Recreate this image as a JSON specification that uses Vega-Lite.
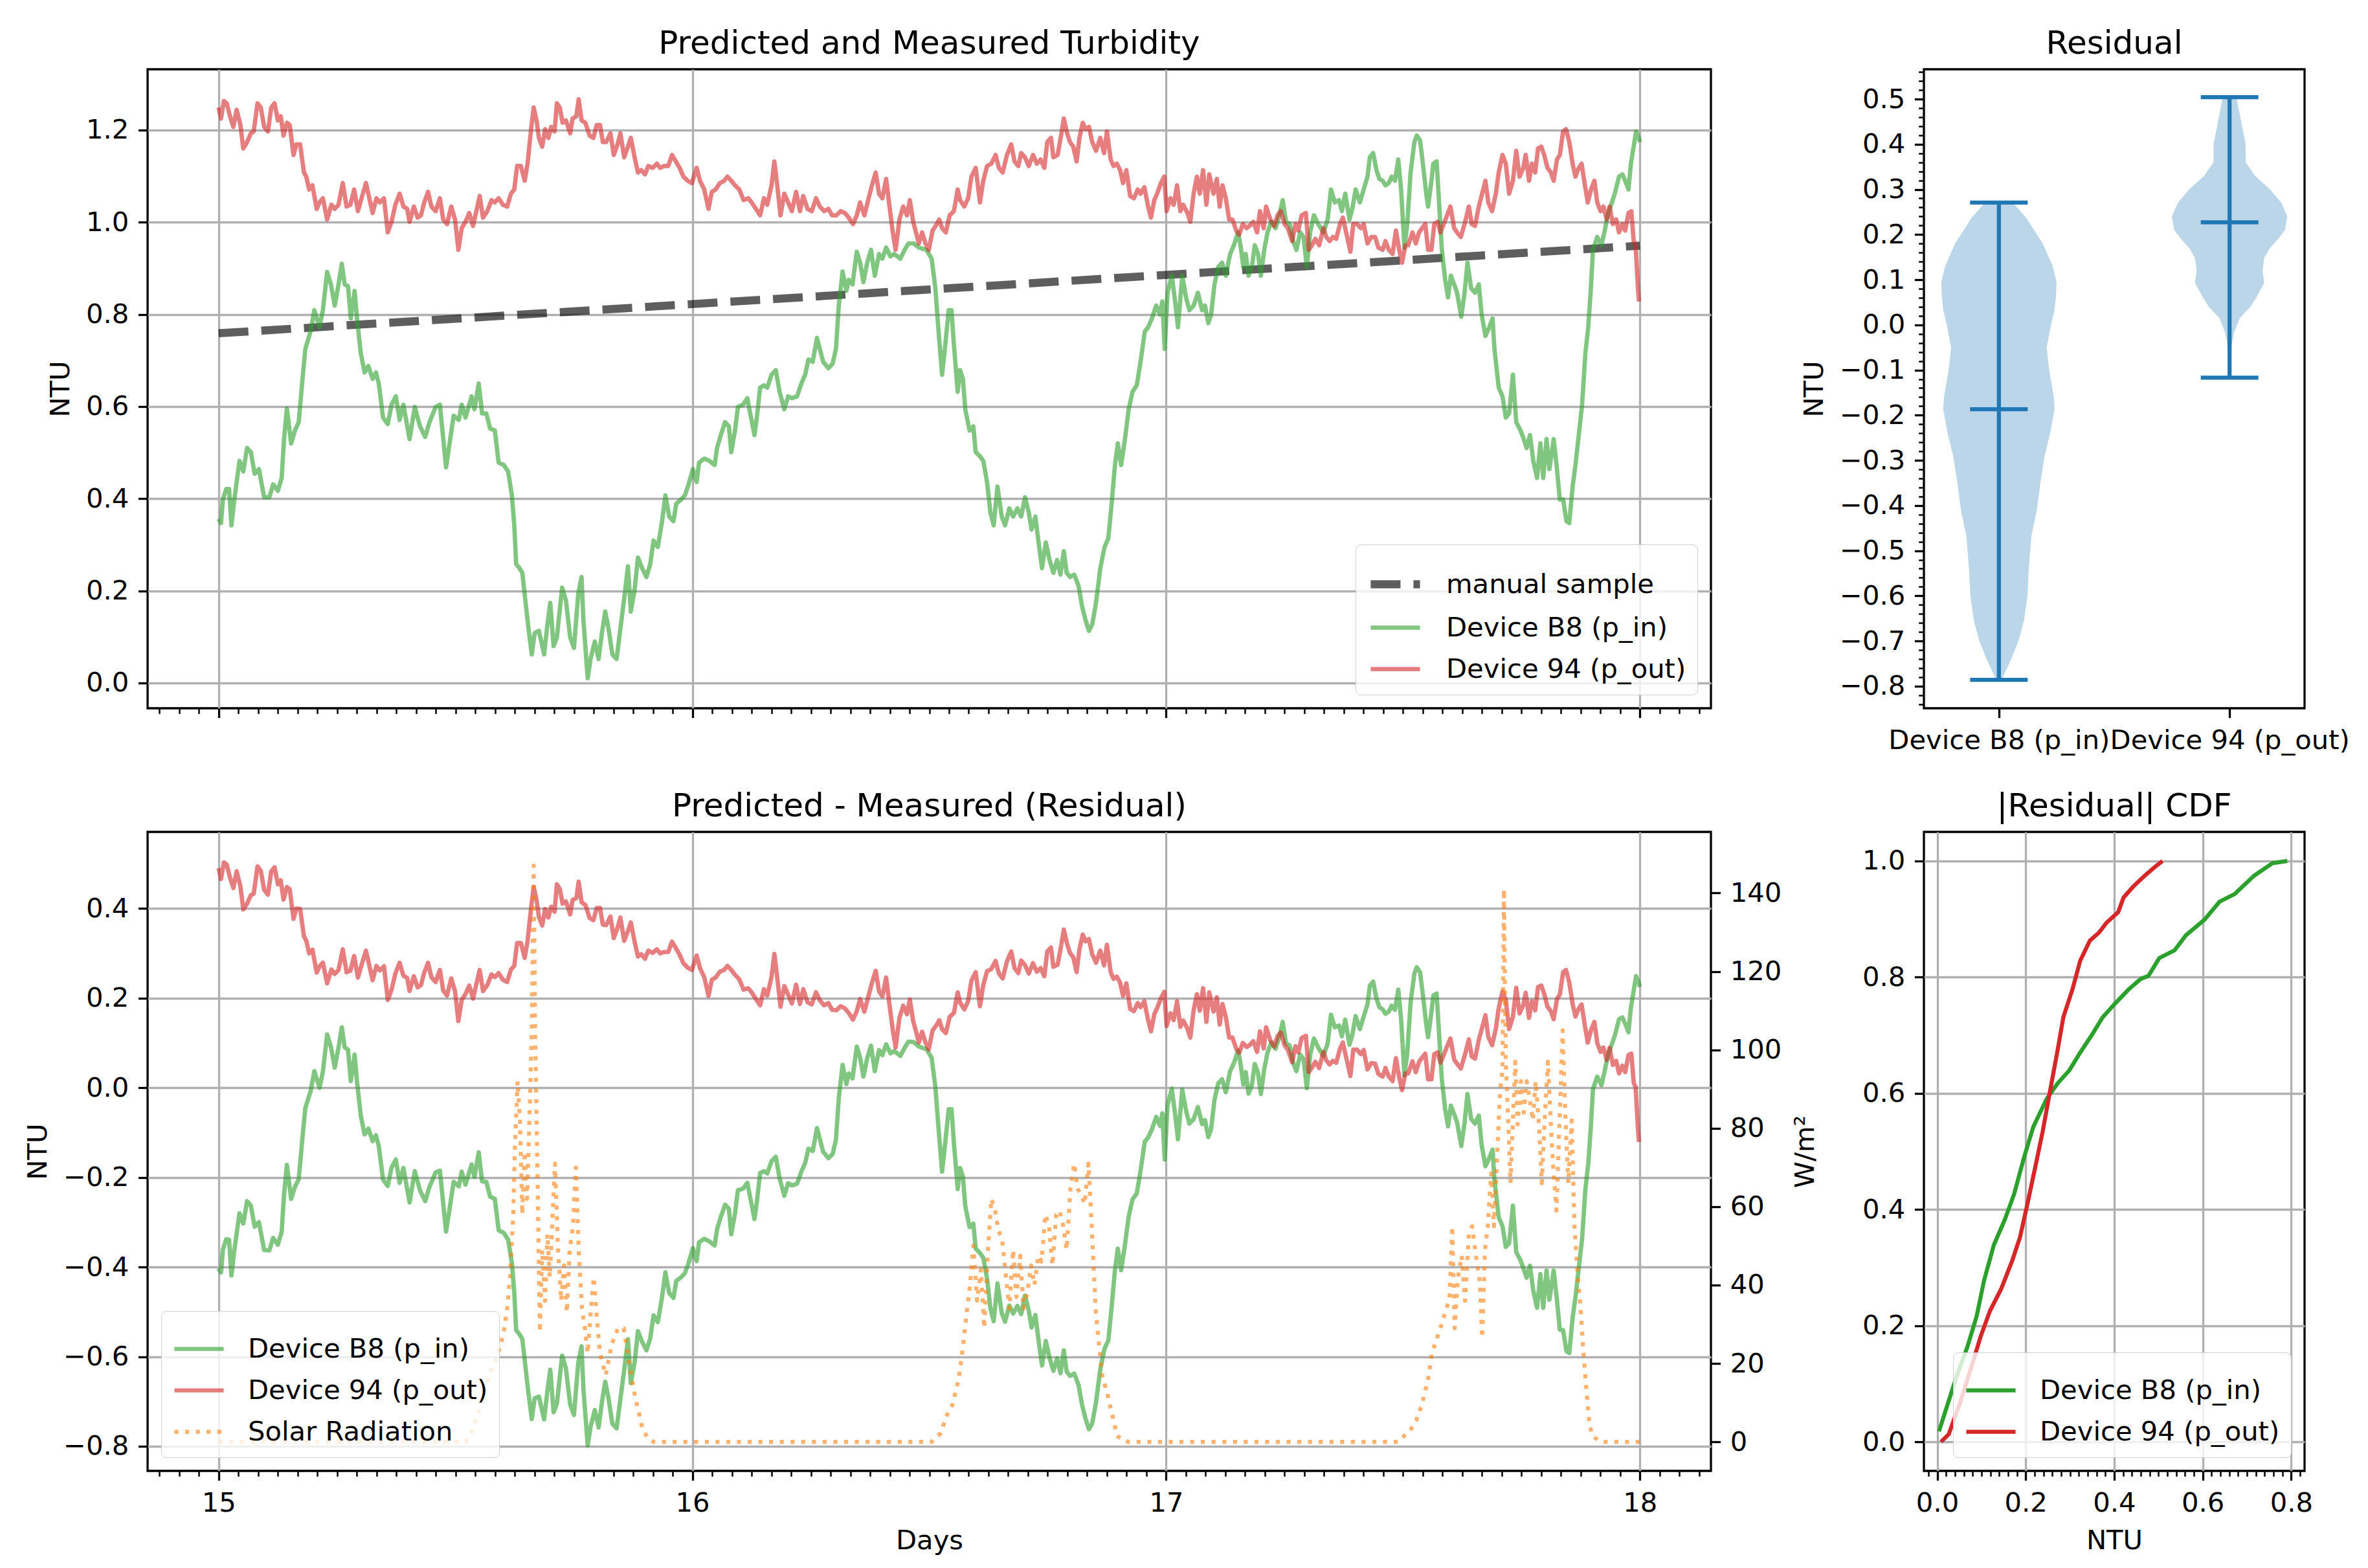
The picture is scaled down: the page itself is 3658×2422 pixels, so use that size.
{
  "$schema": "https://vega.github.io/schema/vega-lite/v6.json",
  "background": "white",
  "padding": {"left": 37, "top": 41, "right": 0, "bottom": 0},
  "columns": 2,
  "align": "each",
  "bounds": "flush",
  "spacing": {"row": 191, "column": 329},
  "resolve": {
    "scale": {"color": "independent", "strokeDash": "independent", "strokeWidth": "independent", "opacity": "independent", "x": "independent", "y": "independent"},
    "legend": {"color": "independent", "strokeDash": "independent", "strokeWidth": "independent", "opacity": "independent"}
  },
  "datasets": {
    "turb": [
      {"s":"manual sample","t":15,"v":0.759},{"s":"manual sample","t":18,"v":0.949},
      {"s":"Device B8 (p_in)","t":15,"v":0.356},{"s":"Device B8 (p_in)","t":15.005,"v":0.347},{"s":"Device B8 (p_in)","t":15.009,"v":0.398},{"s":"Device B8 (p_in)","t":15.016,"v":0.421},{"s":"Device B8 (p_in)","t":15.022,"v":0.421},{"s":"Device B8 (p_in)","t":15.027,"v":0.342},{"s":"Device B8 (p_in)","t":15.033,"v":0.398},{"s":"Device B8 (p_in)","t":15.044,"v":0.482},{"s":"Device B8 (p_in)","t":15.052,"v":0.459},{"s":"Device B8 (p_in)","t":15.06,"v":0.51},{"s":"Device B8 (p_in)","t":15.068,"v":0.501},{"s":"Device B8 (p_in)","t":15.076,"v":0.454},{"s":"Device B8 (p_in)","t":15.085,"v":0.464},{"s":"Device B8 (p_in)","t":15.096,"v":0.403},{"s":"Device B8 (p_in)","t":15.107,"v":0.403},{"s":"Device B8 (p_in)","t":15.115,"v":0.431},{"s":"Device B8 (p_in)","t":15.125,"v":0.417},{"s":"Device B8 (p_in)","t":15.133,"v":0.445},{"s":"Device B8 (p_in)","t":15.138,"v":0.529},{"s":"Device B8 (p_in)","t":15.144,"v":0.596},{"s":"Device B8 (p_in)","t":15.153,"v":0.52},{"s":"Device B8 (p_in)","t":15.161,"v":0.548},{"s":"Device B8 (p_in)","t":15.169,"v":0.566},{"s":"Device B8 (p_in)","t":15.177,"v":0.66},{"s":"Device B8 (p_in)","t":15.183,"v":0.725},{"s":"Device B8 (p_in)","t":15.194,"v":0.763},{"s":"Device B8 (p_in)","t":15.202,"v":0.809},{"s":"Device B8 (p_in)","t":15.213,"v":0.772},{"s":"Device B8 (p_in)","t":15.22,"v":0.809},{"s":"Device B8 (p_in)","t":15.229,"v":0.892},{"s":"Device B8 (p_in)","t":15.237,"v":0.865},{"s":"Device B8 (p_in)","t":15.245,"v":0.819},{"s":"Device B8 (p_in)","t":15.253,"v":0.865},{"s":"Device B8 (p_in)","t":15.26,"v":0.91},{"s":"Device B8 (p_in)","t":15.266,"v":0.865},{"s":"Device B8 (p_in)","t":15.273,"v":0.861},{"s":"Device B8 (p_in)","t":15.279,"v":0.791},{"s":"Device B8 (p_in)","t":15.287,"v":0.851},{"s":"Device B8 (p_in)","t":15.292,"v":0.791},{"s":"Device B8 (p_in)","t":15.3,"v":0.716},{"s":"Device B8 (p_in)","t":15.308,"v":0.674},{"s":"Device B8 (p_in)","t":15.316,"v":0.688},{"s":"Device B8 (p_in)","t":15.325,"v":0.66},{"s":"Device B8 (p_in)","t":15.332,"v":0.674},{"s":"Device B8 (p_in)","t":15.338,"v":0.65},{"s":"Device B8 (p_in)","t":15.347,"v":0.576},{"s":"Device B8 (p_in)","t":15.357,"v":0.562},{"s":"Device B8 (p_in)","t":15.365,"v":0.604},{"s":"Device B8 (p_in)","t":15.374,"v":0.622},{"s":"Device B8 (p_in)","t":15.382,"v":0.571},{"s":"Device B8 (p_in)","t":15.39,"v":0.604},{"s":"Device B8 (p_in)","t":15.403,"v":0.529},{"s":"Device B8 (p_in)","t":15.414,"v":0.599},{"s":"Device B8 (p_in)","t":15.425,"v":0.557},{"s":"Device B8 (p_in)","t":15.436,"v":0.534},{"s":"Device B8 (p_in)","t":15.445,"v":0.566},{"s":"Device B8 (p_in)","t":15.458,"v":0.599},{"s":"Device B8 (p_in)","t":15.467,"v":0.604},{"s":"Device B8 (p_in)","t":15.48,"v":0.468},{"s":"Device B8 (p_in)","t":15.486,"v":0.51},{"s":"Device B8 (p_in)","t":15.496,"v":0.58},{"s":"Device B8 (p_in)","t":15.507,"v":0.571},{"s":"Device B8 (p_in)","t":15.513,"v":0.604},{"s":"Device B8 (p_in)","t":15.521,"v":0.576},{"s":"Device B8 (p_in)","t":15.534,"v":0.622},{"s":"Device B8 (p_in)","t":15.54,"v":0.594},{"s":"Device B8 (p_in)","t":15.549,"v":0.65},{"s":"Device B8 (p_in)","t":15.556,"v":0.585},{"s":"Device B8 (p_in)","t":15.565,"v":0.585},{"s":"Device B8 (p_in)","t":15.573,"v":0.552},{"s":"Device B8 (p_in)","t":15.583,"v":0.548},{"s":"Device B8 (p_in)","t":15.591,"v":0.478},{"s":"Device B8 (p_in)","t":15.602,"v":0.473},{"s":"Device B8 (p_in)","t":15.611,"v":0.459},{"s":"Device B8 (p_in)","t":15.619,"v":0.407},{"s":"Device B8 (p_in)","t":15.624,"v":0.342},{"s":"Device B8 (p_in)","t":15.628,"v":0.258},{"s":"Device B8 (p_in)","t":15.635,"v":0.249},{"s":"Device B8 (p_in)","t":15.641,"v":0.239},{"s":"Device B8 (p_in)","t":15.649,"v":0.164},{"s":"Device B8 (p_in)","t":15.654,"v":0.118},{"s":"Device B8 (p_in)","t":15.661,"v":0.062},{"s":"Device B8 (p_in)","t":15.667,"v":0.108},{"s":"Device B8 (p_in)","t":15.676,"v":0.113},{"s":"Device B8 (p_in)","t":15.687,"v":0.062},{"s":"Device B8 (p_in)","t":15.694,"v":0.127},{"s":"Device B8 (p_in)","t":15.7,"v":0.174},{"s":"Device B8 (p_in)","t":15.707,"v":0.08},{"s":"Device B8 (p_in)","t":15.714,"v":0.099},{"s":"Device B8 (p_in)","t":15.725,"v":0.207},{"s":"Device B8 (p_in)","t":15.733,"v":0.179},{"s":"Device B8 (p_in)","t":15.742,"v":0.099},{"s":"Device B8 (p_in)","t":15.75,"v":0.076},{"s":"Device B8 (p_in)","t":15.759,"v":0.193},{"s":"Device B8 (p_in)","t":15.766,"v":0.23},{"s":"Device B8 (p_in)","t":15.77,"v":0.136},{"s":"Device B8 (p_in)","t":15.779,"v":0.01},{"s":"Device B8 (p_in)","t":15.785,"v":0.052},{"s":"Device B8 (p_in)","t":15.794,"v":0.09},{"s":"Device B8 (p_in)","t":15.802,"v":0.052},{"s":"Device B8 (p_in)","t":15.809,"v":0.108},{"s":"Device B8 (p_in)","t":15.816,"v":0.155},{"s":"Device B8 (p_in)","t":15.823,"v":0.118},{"s":"Device B8 (p_in)","t":15.831,"v":0.062},{"s":"Device B8 (p_in)","t":15.84,"v":0.052},{"s":"Device B8 (p_in)","t":15.848,"v":0.118},{"s":"Device B8 (p_in)","t":15.856,"v":0.183},{"s":"Device B8 (p_in)","t":15.864,"v":0.253},{"s":"Device B8 (p_in)","t":15.87,"v":0.155},{"s":"Device B8 (p_in)","t":15.878,"v":0.202},{"s":"Device B8 (p_in)","t":15.885,"v":0.272},{"s":"Device B8 (p_in)","t":15.894,"v":0.249},{"s":"Device B8 (p_in)","t":15.903,"v":0.23},{"s":"Device B8 (p_in)","t":15.911,"v":0.258},{"s":"Device B8 (p_in)","t":15.918,"v":0.309},{"s":"Device B8 (p_in)","t":15.927,"v":0.295},{"s":"Device B8 (p_in)","t":15.936,"v":0.351},{"s":"Device B8 (p_in)","t":15.943,"v":0.407},{"s":"Device B8 (p_in)","t":15.951,"v":0.361},{"s":"Device B8 (p_in)","t":15.96,"v":0.351},{"s":"Device B8 (p_in)","t":15.966,"v":0.389},{"s":"Device B8 (p_in)","t":15.976,"v":0.398},{"s":"Device B8 (p_in)","t":15.984,"v":0.407},{"s":"Device B8 (p_in)","t":15.992,"v":0.431},{"s":"Device B8 (p_in)","t":16.001,"v":0.464},{"s":"Device B8 (p_in)","t":16.009,"v":0.436},{"s":"Device B8 (p_in)","t":16.014,"v":0.478},{"s":"Device B8 (p_in)","t":16.025,"v":0.487},{"s":"Device B8 (p_in)","t":16.036,"v":0.482},{"s":"Device B8 (p_in)","t":16.047,"v":0.473},{"s":"Device B8 (p_in)","t":16.052,"v":0.51},{"s":"Device B8 (p_in)","t":16.06,"v":0.538},{"s":"Device B8 (p_in)","t":16.069,"v":0.566},{"s":"Device B8 (p_in)","t":16.077,"v":0.557},{"s":"Device B8 (p_in)","t":16.082,"v":0.501},{"s":"Device B8 (p_in)","t":16.09,"v":0.548},{"s":"Device B8 (p_in)","t":16.096,"v":0.599},{"s":"Device B8 (p_in)","t":16.107,"v":0.604},{"s":"Device B8 (p_in)","t":16.116,"v":0.618},{"s":"Device B8 (p_in)","t":16.123,"v":0.58},{"s":"Device B8 (p_in)","t":16.131,"v":0.538},{"s":"Device B8 (p_in)","t":16.136,"v":0.576},{"s":"Device B8 (p_in)","t":16.143,"v":0.641},{"s":"Device B8 (p_in)","t":16.151,"v":0.646},{"s":"Device B8 (p_in)","t":16.158,"v":0.641},{"s":"Device B8 (p_in)","t":16.167,"v":0.669},{"s":"Device B8 (p_in)","t":16.176,"v":0.679},{"s":"Device B8 (p_in)","t":16.184,"v":0.632},{"s":"Device B8 (p_in)","t":16.194,"v":0.594},{"s":"Device B8 (p_in)","t":16.202,"v":0.622},{"s":"Device B8 (p_in)","t":16.21,"v":0.618},{"s":"Device B8 (p_in)","t":16.221,"v":0.622},{"s":"Device B8 (p_in)","t":16.23,"v":0.65},{"s":"Device B8 (p_in)","t":16.238,"v":0.669},{"s":"Device B8 (p_in)","t":16.245,"v":0.702},{"s":"Device B8 (p_in)","t":16.254,"v":0.697},{"s":"Device B8 (p_in)","t":16.263,"v":0.749},{"s":"Device B8 (p_in)","t":16.269,"v":0.725},{"s":"Device B8 (p_in)","t":16.276,"v":0.697},{"s":"Device B8 (p_in)","t":16.287,"v":0.683},{"s":"Device B8 (p_in)","t":16.296,"v":0.693},{"s":"Device B8 (p_in)","t":16.303,"v":0.725},{"s":"Device B8 (p_in)","t":16.309,"v":0.819},{"s":"Device B8 (p_in)","t":16.317,"v":0.893},{"s":"Device B8 (p_in)","t":16.325,"v":0.851},{"s":"Device B8 (p_in)","t":16.33,"v":0.875},{"s":"Device B8 (p_in)","t":16.338,"v":0.865},{"s":"Device B8 (p_in)","t":16.347,"v":0.936},{"s":"Device B8 (p_in)","t":16.354,"v":0.912},{"s":"Device B8 (p_in)","t":16.361,"v":0.87},{"s":"Device B8 (p_in)","t":16.369,"v":0.912},{"s":"Device B8 (p_in)","t":16.377,"v":0.94},{"s":"Device B8 (p_in)","t":16.385,"v":0.884},{"s":"Device B8 (p_in)","t":16.394,"v":0.931},{"s":"Device B8 (p_in)","t":16.401,"v":0.921},{"s":"Device B8 (p_in)","t":16.409,"v":0.945},{"s":"Device B8 (p_in)","t":16.418,"v":0.926},{"s":"Device B8 (p_in)","t":16.426,"v":0.931},{"s":"Device B8 (p_in)","t":16.439,"v":0.921},{"s":"Device B8 (p_in)","t":16.448,"v":0.94},{"s":"Device B8 (p_in)","t":16.456,"v":0.954},{"s":"Device B8 (p_in)","t":16.467,"v":0.954},{"s":"Device B8 (p_in)","t":16.478,"v":0.945},{"s":"Device B8 (p_in)","t":16.494,"v":0.94},{"s":"Device B8 (p_in)","t":16.505,"v":0.921},{"s":"Device B8 (p_in)","t":16.513,"v":0.856},{"s":"Device B8 (p_in)","t":16.519,"v":0.772},{"s":"Device B8 (p_in)","t":16.527,"v":0.669},{"s":"Device B8 (p_in)","t":16.532,"v":0.716},{"s":"Device B8 (p_in)","t":16.541,"v":0.809},{"s":"Device B8 (p_in)","t":16.547,"v":0.809},{"s":"Device B8 (p_in)","t":16.552,"v":0.734},{"s":"Device B8 (p_in)","t":16.56,"v":0.632},{"s":"Device B8 (p_in)","t":16.565,"v":0.679},{"s":"Device B8 (p_in)","t":16.571,"v":0.66},{"s":"Device B8 (p_in)","t":16.576,"v":0.594},{"s":"Device B8 (p_in)","t":16.585,"v":0.548},{"s":"Device B8 (p_in)","t":16.593,"v":0.557},{"s":"Device B8 (p_in)","t":16.598,"v":0.501},{"s":"Device B8 (p_in)","t":16.607,"v":0.492},{"s":"Device B8 (p_in)","t":16.614,"v":0.482},{"s":"Device B8 (p_in)","t":16.622,"v":0.436},{"s":"Device B8 (p_in)","t":16.629,"v":0.37},{"s":"Device B8 (p_in)","t":16.636,"v":0.342},{"s":"Device B8 (p_in)","t":16.644,"v":0.426},{"s":"Device B8 (p_in)","t":16.653,"v":0.361},{"s":"Device B8 (p_in)","t":16.66,"v":0.342},{"s":"Device B8 (p_in)","t":16.669,"v":0.379},{"s":"Device B8 (p_in)","t":16.677,"v":0.361},{"s":"Device B8 (p_in)","t":16.686,"v":0.379},{"s":"Device B8 (p_in)","t":16.694,"v":0.361},{"s":"Device B8 (p_in)","t":16.702,"v":0.403},{"s":"Device B8 (p_in)","t":16.71,"v":0.37},{"s":"Device B8 (p_in)","t":16.716,"v":0.333},{"s":"Device B8 (p_in)","t":16.724,"v":0.361},{"s":"Device B8 (p_in)","t":16.732,"v":0.295},{"s":"Device B8 (p_in)","t":16.738,"v":0.249},{"s":"Device B8 (p_in)","t":16.746,"v":0.305},{"s":"Device B8 (p_in)","t":16.754,"v":0.267},{"s":"Device B8 (p_in)","t":16.762,"v":0.239},{"s":"Device B8 (p_in)","t":16.77,"v":0.267},{"s":"Device B8 (p_in)","t":16.777,"v":0.235},{"s":"Device B8 (p_in)","t":16.784,"v":0.286},{"s":"Device B8 (p_in)","t":16.79,"v":0.239},{"s":"Device B8 (p_in)","t":16.797,"v":0.23},{"s":"Device B8 (p_in)","t":16.806,"v":0.235},{"s":"Device B8 (p_in)","t":16.815,"v":0.211},{"s":"Device B8 (p_in)","t":16.823,"v":0.164},{"s":"Device B8 (p_in)","t":16.83,"v":0.136},{"s":"Device B8 (p_in)","t":16.837,"v":0.113},{"s":"Device B8 (p_in)","t":16.844,"v":0.127},{"s":"Device B8 (p_in)","t":16.852,"v":0.174},{"s":"Device B8 (p_in)","t":16.861,"v":0.249},{"s":"Device B8 (p_in)","t":16.87,"v":0.295},{"s":"Device B8 (p_in)","t":16.878,"v":0.314},{"s":"Device B8 (p_in)","t":16.885,"v":0.389},{"s":"Device B8 (p_in)","t":16.892,"v":0.473},{"s":"Device B8 (p_in)","t":16.898,"v":0.52},{"s":"Device B8 (p_in)","t":16.905,"v":0.473},{"s":"Device B8 (p_in)","t":16.913,"v":0.529},{"s":"Device B8 (p_in)","t":16.921,"v":0.594},{"s":"Device B8 (p_in)","t":16.929,"v":0.632},{"s":"Device B8 (p_in)","t":16.938,"v":0.646},{"s":"Device B8 (p_in)","t":16.946,"v":0.697},{"s":"Device B8 (p_in)","t":16.955,"v":0.763},{"s":"Device B8 (p_in)","t":16.962,"v":0.772},{"s":"Device B8 (p_in)","t":16.97,"v":0.791},{"s":"Device B8 (p_in)","t":16.979,"v":0.819},{"s":"Device B8 (p_in)","t":16.987,"v":0.8},{"s":"Device B8 (p_in)","t":16.992,"v":0.828},{"s":"Device B8 (p_in)","t":16.997,"v":0.725},{"s":"Device B8 (p_in)","t":17.003,"v":0.847},{"s":"Device B8 (p_in)","t":17.012,"v":0.884},{"s":"Device B8 (p_in)","t":17.02,"v":0.819},{"s":"Device B8 (p_in)","t":17.025,"v":0.772},{"s":"Device B8 (p_in)","t":17.034,"v":0.884},{"s":"Device B8 (p_in)","t":17.042,"v":0.837},{"s":"Device B8 (p_in)","t":17.049,"v":0.809},{"s":"Device B8 (p_in)","t":17.058,"v":0.819},{"s":"Device B8 (p_in)","t":17.067,"v":0.847},{"s":"Device B8 (p_in)","t":17.076,"v":0.809},{"s":"Device B8 (p_in)","t":17.082,"v":0.819},{"s":"Device B8 (p_in)","t":17.089,"v":0.781},{"s":"Device B8 (p_in)","t":17.095,"v":0.8},{"s":"Device B8 (p_in)","t":17.102,"v":0.865},{"s":"Device B8 (p_in)","t":17.11,"v":0.903},{"s":"Device B8 (p_in)","t":17.118,"v":0.912},{"s":"Device B8 (p_in)","t":17.126,"v":0.884},{"s":"Device B8 (p_in)","t":17.135,"v":0.931},{"s":"Device B8 (p_in)","t":17.143,"v":0.95},{"s":"Device B8 (p_in)","t":17.152,"v":0.978},{"s":"Device B8 (p_in)","t":17.157,"v":0.95},{"s":"Device B8 (p_in)","t":17.163,"v":0.903},{"s":"Device B8 (p_in)","t":17.168,"v":0.931},{"s":"Device B8 (p_in)","t":17.174,"v":0.884},{"s":"Device B8 (p_in)","t":17.181,"v":0.903},{"s":"Device B8 (p_in)","t":17.187,"v":0.95},{"s":"Device B8 (p_in)","t":17.194,"v":0.931},{"s":"Device B8 (p_in)","t":17.2,"v":0.884},{"s":"Device B8 (p_in)","t":17.207,"v":0.94},{"s":"Device B8 (p_in)","t":17.214,"v":0.978},{"s":"Device B8 (p_in)","t":17.222,"v":1.001},{"s":"Device B8 (p_in)","t":17.231,"v":0.987},{"s":"Device B8 (p_in)","t":17.239,"v":1.015},{"s":"Device B8 (p_in)","t":17.246,"v":1.048},{"s":"Device B8 (p_in)","t":17.253,"v":1.001},{"s":"Device B8 (p_in)","t":17.261,"v":0.996},{"s":"Device B8 (p_in)","t":17.268,"v":0.959},{"s":"Device B8 (p_in)","t":17.275,"v":0.94},{"s":"Device B8 (p_in)","t":17.283,"v":0.978},{"s":"Device B8 (p_in)","t":17.29,"v":0.968},{"s":"Device B8 (p_in)","t":17.297,"v":0.903},{"s":"Device B8 (p_in)","t":17.304,"v":0.978},{"s":"Device B8 (p_in)","t":17.312,"v":1.015},{"s":"Device B8 (p_in)","t":17.321,"v":0.996},{"s":"Device B8 (p_in)","t":17.332,"v":0.978},{"s":"Device B8 (p_in)","t":17.341,"v":1.006},{"s":"Device B8 (p_in)","t":17.348,"v":1.071},{"s":"Device B8 (p_in)","t":17.356,"v":1.043},{"s":"Device B8 (p_in)","t":17.365,"v":1.048},{"s":"Device B8 (p_in)","t":17.371,"v":1.024},{"s":"Device B8 (p_in)","t":17.378,"v":1.062},{"s":"Device B8 (p_in)","t":17.387,"v":1.006},{"s":"Device B8 (p_in)","t":17.393,"v":1.029},{"s":"Device B8 (p_in)","t":17.4,"v":1.071},{"s":"Device B8 (p_in)","t":17.409,"v":1.043},{"s":"Device B8 (p_in)","t":17.417,"v":1.071},{"s":"Device B8 (p_in)","t":17.425,"v":1.099},{"s":"Device B8 (p_in)","t":17.43,"v":1.141},{"s":"Device B8 (p_in)","t":17.437,"v":1.15},{"s":"Device B8 (p_in)","t":17.444,"v":1.113},{"s":"Device B8 (p_in)","t":17.45,"v":1.094},{"s":"Device B8 (p_in)","t":17.457,"v":1.09},{"s":"Device B8 (p_in)","t":17.463,"v":1.08},{"s":"Device B8 (p_in)","t":17.47,"v":1.085},{"s":"Device B8 (p_in)","t":17.476,"v":1.099},{"s":"Device B8 (p_in)","t":17.483,"v":1.09},{"s":"Device B8 (p_in)","t":17.49,"v":1.136},{"s":"Device B8 (p_in)","t":17.496,"v":1.071},{"s":"Device B8 (p_in)","t":17.503,"v":0.945},{"s":"Device B8 (p_in)","t":17.509,"v":0.996},{"s":"Device B8 (p_in)","t":17.516,"v":1.108},{"s":"Device B8 (p_in)","t":17.524,"v":1.174},{"s":"Device B8 (p_in)","t":17.529,"v":1.188},{"s":"Device B8 (p_in)","t":17.536,"v":1.178},{"s":"Device B8 (p_in)","t":17.542,"v":1.127},{"s":"Device B8 (p_in)","t":17.549,"v":1.062},{"s":"Device B8 (p_in)","t":17.553,"v":1.034},{"s":"Device B8 (p_in)","t":17.56,"v":1.09},{"s":"Device B8 (p_in)","t":17.564,"v":1.127},{"s":"Device B8 (p_in)","t":17.571,"v":1.132},{"s":"Device B8 (p_in)","t":17.575,"v":1.062},{"s":"Device B8 (p_in)","t":17.582,"v":0.94},{"s":"Device B8 (p_in)","t":17.589,"v":0.875},{"s":"Device B8 (p_in)","t":17.595,"v":0.837},{"s":"Device B8 (p_in)","t":17.601,"v":0.884},{"s":"Device B8 (p_in)","t":17.608,"v":0.865},{"s":"Device B8 (p_in)","t":17.614,"v":0.847},{"s":"Device B8 (p_in)","t":17.623,"v":0.795},{"s":"Device B8 (p_in)","t":17.63,"v":0.847},{"s":"Device B8 (p_in)","t":17.636,"v":0.912},{"s":"Device B8 (p_in)","t":17.644,"v":0.856},{"s":"Device B8 (p_in)","t":17.652,"v":0.847},{"s":"Device B8 (p_in)","t":17.66,"v":0.865},{"s":"Device B8 (p_in)","t":17.666,"v":0.8},{"s":"Device B8 (p_in)","t":17.674,"v":0.753},{"s":"Device B8 (p_in)","t":17.682,"v":0.772},{"s":"Device B8 (p_in)","t":17.689,"v":0.791},{"s":"Device B8 (p_in)","t":17.693,"v":0.725},{"s":"Device B8 (p_in)","t":17.702,"v":0.641},{"s":"Device B8 (p_in)","t":17.71,"v":0.622},{"s":"Device B8 (p_in)","t":17.717,"v":0.576},{"s":"Device B8 (p_in)","t":17.724,"v":0.585},{"s":"Device B8 (p_in)","t":17.732,"v":0.669},{"s":"Device B8 (p_in)","t":17.739,"v":0.566},{"s":"Device B8 (p_in)","t":17.748,"v":0.548},{"s":"Device B8 (p_in)","t":17.755,"v":0.529},{"s":"Device B8 (p_in)","t":17.761,"v":0.51},{"s":"Device B8 (p_in)","t":17.768,"v":0.538},{"s":"Device B8 (p_in)","t":17.775,"v":0.482},{"s":"Device B8 (p_in)","t":17.783,"v":0.445},{"s":"Device B8 (p_in)","t":17.79,"v":0.52},{"s":"Device B8 (p_in)","t":17.796,"v":0.445},{"s":"Device B8 (p_in)","t":17.803,"v":0.529},{"s":"Device B8 (p_in)","t":17.809,"v":0.464},{"s":"Device B8 (p_in)","t":17.818,"v":0.529},{"s":"Device B8 (p_in)","t":17.825,"v":0.464},{"s":"Device B8 (p_in)","t":17.831,"v":0.398},{"s":"Device B8 (p_in)","t":17.838,"v":0.398},{"s":"Device B8 (p_in)","t":17.845,"v":0.351},{"s":"Device B8 (p_in)","t":17.851,"v":0.347},{"s":"Device B8 (p_in)","t":17.858,"v":0.426},{"s":"Device B8 (p_in)","t":17.864,"v":0.473},{"s":"Device B8 (p_in)","t":17.871,"v":0.538},{"s":"Device B8 (p_in)","t":17.878,"v":0.604},{"s":"Device B8 (p_in)","t":17.885,"v":0.716},{"s":"Device B8 (p_in)","t":17.891,"v":0.772},{"s":"Device B8 (p_in)","t":17.896,"v":0.847},{"s":"Device B8 (p_in)","t":17.901,"v":0.94},{"s":"Device B8 (p_in)","t":17.91,"v":0.968},{"s":"Device B8 (p_in)","t":17.919,"v":0.95},{"s":"Device B8 (p_in)","t":17.925,"v":0.978},{"s":"Device B8 (p_in)","t":17.932,"v":1.015},{"s":"Device B8 (p_in)","t":17.941,"v":1.043},{"s":"Device B8 (p_in)","t":17.947,"v":1.062},{"s":"Device B8 (p_in)","t":17.956,"v":1.099},{"s":"Device B8 (p_in)","t":17.963,"v":1.104},{"s":"Device B8 (p_in)","t":17.969,"v":1.09},{"s":"Device B8 (p_in)","t":17.976,"v":1.071},{"s":"Device B8 (p_in)","t":17.981,"v":1.127},{"s":"Device B8 (p_in)","t":17.987,"v":1.165},{"s":"Device B8 (p_in)","t":17.992,"v":1.197},{"s":"Device B8 (p_in)","t":17.998,"v":1.183},{"s":"Device B8 (p_in)","t":18,"v":1.174},
      {"s":"Device 94 (p_out)","t":15,"v":1.249},{"s":"Device 94 (p_out)","t":15.005,"v":1.225},{"s":"Device 94 (p_out)","t":15.011,"v":1.263},{"s":"Device 94 (p_out)","t":15.017,"v":1.258},{"s":"Device 94 (p_out)","t":15.024,"v":1.23},{"s":"Device 94 (p_out)","t":15.031,"v":1.207},{"s":"Device 94 (p_out)","t":15.038,"v":1.244},{"s":"Device 94 (p_out)","t":15.046,"v":1.211},{"s":"Device 94 (p_out)","t":15.052,"v":1.16},{"s":"Device 94 (p_out)","t":15.06,"v":1.174},{"s":"Device 94 (p_out)","t":15.068,"v":1.193},{"s":"Device 94 (p_out)","t":15.074,"v":1.197},{"s":"Device 94 (p_out)","t":15.082,"v":1.258},{"s":"Device 94 (p_out)","t":15.089,"v":1.249},{"s":"Device 94 (p_out)","t":15.096,"v":1.207},{"s":"Device 94 (p_out)","t":15.104,"v":1.197},{"s":"Device 94 (p_out)","t":15.111,"v":1.249},{"s":"Device 94 (p_out)","t":15.118,"v":1.258},{"s":"Device 94 (p_out)","t":15.125,"v":1.221},{"s":"Device 94 (p_out)","t":15.131,"v":1.23},{"s":"Device 94 (p_out)","t":15.137,"v":1.188},{"s":"Device 94 (p_out)","t":15.144,"v":1.216},{"s":"Device 94 (p_out)","t":15.15,"v":1.211},{"s":"Device 94 (p_out)","t":15.158,"v":1.146},{"s":"Device 94 (p_out)","t":15.164,"v":1.169},{"s":"Device 94 (p_out)","t":15.172,"v":1.169},{"s":"Device 94 (p_out)","t":15.18,"v":1.108},{"s":"Device 94 (p_out)","t":15.185,"v":1.099},{"s":"Device 94 (p_out)","t":15.191,"v":1.071},{"s":"Device 94 (p_out)","t":15.198,"v":1.08},{"s":"Device 94 (p_out)","t":15.207,"v":1.029},{"s":"Device 94 (p_out)","t":15.213,"v":1.043},{"s":"Device 94 (p_out)","t":15.22,"v":1.052},{"s":"Device 94 (p_out)","t":15.229,"v":1.006},{"s":"Device 94 (p_out)","t":15.238,"v":1.038},{"s":"Device 94 (p_out)","t":15.245,"v":1.029},{"s":"Device 94 (p_out)","t":15.253,"v":1.038},{"s":"Device 94 (p_out)","t":15.262,"v":1.085},{"s":"Device 94 (p_out)","t":15.27,"v":1.034},{"s":"Device 94 (p_out)","t":15.278,"v":1.038},{"s":"Device 94 (p_out)","t":15.286,"v":1.071},{"s":"Device 94 (p_out)","t":15.294,"v":1.024},{"s":"Device 94 (p_out)","t":15.303,"v":1.057},{"s":"Device 94 (p_out)","t":15.311,"v":1.085},{"s":"Device 94 (p_out)","t":15.318,"v":1.052},{"s":"Device 94 (p_out)","t":15.325,"v":1.02},{"s":"Device 94 (p_out)","t":15.333,"v":1.052},{"s":"Device 94 (p_out)","t":15.34,"v":1.043},{"s":"Device 94 (p_out)","t":15.349,"v":1.052},{"s":"Device 94 (p_out)","t":15.357,"v":0.978},{"s":"Device 94 (p_out)","t":15.365,"v":1.001},{"s":"Device 94 (p_out)","t":15.373,"v":1.038},{"s":"Device 94 (p_out)","t":15.382,"v":1.062},{"s":"Device 94 (p_out)","t":15.39,"v":1.034},{"s":"Device 94 (p_out)","t":15.398,"v":1.029},{"s":"Device 94 (p_out)","t":15.403,"v":1.001},{"s":"Device 94 (p_out)","t":15.412,"v":1.034},{"s":"Device 94 (p_out)","t":15.42,"v":1.01},{"s":"Device 94 (p_out)","t":15.427,"v":1.015},{"s":"Device 94 (p_out)","t":15.434,"v":1.043},{"s":"Device 94 (p_out)","t":15.442,"v":1.066},{"s":"Device 94 (p_out)","t":15.449,"v":1.034},{"s":"Device 94 (p_out)","t":15.458,"v":1.024},{"s":"Device 94 (p_out)","t":15.467,"v":1.052},{"s":"Device 94 (p_out)","t":15.474,"v":1.006},{"s":"Device 94 (p_out)","t":15.482,"v":0.996},{"s":"Device 94 (p_out)","t":15.491,"v":1.034},{"s":"Device 94 (p_out)","t":15.499,"v":1.006},{"s":"Device 94 (p_out)","t":15.506,"v":0.94},{"s":"Device 94 (p_out)","t":15.513,"v":0.987},{"s":"Device 94 (p_out)","t":15.521,"v":1.001},{"s":"Device 94 (p_out)","t":15.529,"v":1.02},{"s":"Device 94 (p_out)","t":15.537,"v":0.992},{"s":"Device 94 (p_out)","t":15.543,"v":1.02},{"s":"Device 94 (p_out)","t":15.551,"v":1.057},{"s":"Device 94 (p_out)","t":15.558,"v":1.01},{"s":"Device 94 (p_out)","t":15.567,"v":1.024},{"s":"Device 94 (p_out)","t":15.576,"v":1.048},{"s":"Device 94 (p_out)","t":15.583,"v":1.043},{"s":"Device 94 (p_out)","t":15.591,"v":1.052},{"s":"Device 94 (p_out)","t":15.6,"v":1.038},{"s":"Device 94 (p_out)","t":15.609,"v":1.034},{"s":"Device 94 (p_out)","t":15.617,"v":1.062},{"s":"Device 94 (p_out)","t":15.624,"v":1.071},{"s":"Device 94 (p_out)","t":15.63,"v":1.122},{"s":"Device 94 (p_out)","t":15.638,"v":1.122},{"s":"Device 94 (p_out)","t":15.646,"v":1.09},{"s":"Device 94 (p_out)","t":15.652,"v":1.127},{"s":"Device 94 (p_out)","t":15.66,"v":1.207},{"s":"Device 94 (p_out)","t":15.665,"v":1.249},{"s":"Device 94 (p_out)","t":15.671,"v":1.221},{"s":"Device 94 (p_out)","t":15.676,"v":1.183},{"s":"Device 94 (p_out)","t":15.683,"v":1.164},{"s":"Device 94 (p_out)","t":15.689,"v":1.202},{"s":"Device 94 (p_out)","t":15.696,"v":1.183},{"s":"Device 94 (p_out)","t":15.702,"v":1.207},{"s":"Device 94 (p_out)","t":15.709,"v":1.197},{"s":"Device 94 (p_out)","t":15.714,"v":1.258},{"s":"Device 94 (p_out)","t":15.72,"v":1.249},{"s":"Device 94 (p_out)","t":15.726,"v":1.216},{"s":"Device 94 (p_out)","t":15.733,"v":1.221},{"s":"Device 94 (p_out)","t":15.742,"v":1.193},{"s":"Device 94 (p_out)","t":15.747,"v":1.225},{"s":"Device 94 (p_out)","t":15.755,"v":1.23},{"s":"Device 94 (p_out)","t":15.76,"v":1.267},{"s":"Device 94 (p_out)","t":15.766,"v":1.221},{"s":"Device 94 (p_out)","t":15.774,"v":1.216},{"s":"Device 94 (p_out)","t":15.783,"v":1.188},{"s":"Device 94 (p_out)","t":15.791,"v":1.183},{"s":"Device 94 (p_out)","t":15.798,"v":1.211},{"s":"Device 94 (p_out)","t":15.805,"v":1.211},{"s":"Device 94 (p_out)","t":15.811,"v":1.174},{"s":"Device 94 (p_out)","t":15.818,"v":1.174},{"s":"Device 94 (p_out)","t":15.827,"v":1.193},{"s":"Device 94 (p_out)","t":15.834,"v":1.146},{"s":"Device 94 (p_out)","t":15.842,"v":1.169},{"s":"Device 94 (p_out)","t":15.848,"v":1.193},{"s":"Device 94 (p_out)","t":15.856,"v":1.141},{"s":"Device 94 (p_out)","t":15.864,"v":1.164},{"s":"Device 94 (p_out)","t":15.87,"v":1.183},{"s":"Device 94 (p_out)","t":15.878,"v":1.141},{"s":"Device 94 (p_out)","t":15.885,"v":1.108},{"s":"Device 94 (p_out)","t":15.892,"v":1.113},{"s":"Device 94 (p_out)","t":15.9,"v":1.104},{"s":"Device 94 (p_out)","t":15.907,"v":1.122},{"s":"Device 94 (p_out)","t":15.916,"v":1.118},{"s":"Device 94 (p_out)","t":15.925,"v":1.127},{"s":"Device 94 (p_out)","t":15.932,"v":1.118},{"s":"Device 94 (p_out)","t":15.94,"v":1.122},{"s":"Device 94 (p_out)","t":15.949,"v":1.122},{"s":"Device 94 (p_out)","t":15.957,"v":1.146},{"s":"Device 94 (p_out)","t":15.965,"v":1.132},{"s":"Device 94 (p_out)","t":15.973,"v":1.118},{"s":"Device 94 (p_out)","t":15.981,"v":1.099},{"s":"Device 94 (p_out)","t":15.99,"v":1.09},{"s":"Device 94 (p_out)","t":15.999,"v":1.085},{"s":"Device 94 (p_out)","t":16.009,"v":1.118},{"s":"Device 94 (p_out)","t":16.016,"v":1.09},{"s":"Device 94 (p_out)","t":16.025,"v":1.071},{"s":"Device 94 (p_out)","t":16.034,"v":1.029},{"s":"Device 94 (p_out)","t":16.041,"v":1.066},{"s":"Device 94 (p_out)","t":16.049,"v":1.071},{"s":"Device 94 (p_out)","t":16.058,"v":1.085},{"s":"Device 94 (p_out)","t":16.067,"v":1.09},{"s":"Device 94 (p_out)","t":16.074,"v":1.099},{"s":"Device 94 (p_out)","t":16.082,"v":1.09},{"s":"Device 94 (p_out)","t":16.09,"v":1.08},{"s":"Device 94 (p_out)","t":16.099,"v":1.071},{"s":"Device 94 (p_out)","t":16.108,"v":1.048},{"s":"Device 94 (p_out)","t":16.118,"v":1.052},{"s":"Device 94 (p_out)","t":16.125,"v":1.043},{"s":"Device 94 (p_out)","t":16.134,"v":1.029},{"s":"Device 94 (p_out)","t":16.143,"v":1.015},{"s":"Device 94 (p_out)","t":16.151,"v":1.052},{"s":"Device 94 (p_out)","t":16.158,"v":1.038},{"s":"Device 94 (p_out)","t":16.167,"v":1.08},{"s":"Device 94 (p_out)","t":16.173,"v":1.132},{"s":"Device 94 (p_out)","t":16.178,"v":1.09},{"s":"Device 94 (p_out)","t":16.186,"v":1.015},{"s":"Device 94 (p_out)","t":16.194,"v":1.062},{"s":"Device 94 (p_out)","t":16.202,"v":1.043},{"s":"Device 94 (p_out)","t":16.21,"v":1.024},{"s":"Device 94 (p_out)","t":16.219,"v":1.066},{"s":"Device 94 (p_out)","t":16.227,"v":1.024},{"s":"Device 94 (p_out)","t":16.234,"v":1.057},{"s":"Device 94 (p_out)","t":16.243,"v":1.029},{"s":"Device 94 (p_out)","t":16.252,"v":1.024},{"s":"Device 94 (p_out)","t":16.261,"v":1.052},{"s":"Device 94 (p_out)","t":16.269,"v":1.034},{"s":"Device 94 (p_out)","t":16.278,"v":1.024},{"s":"Device 94 (p_out)","t":16.287,"v":1.029},{"s":"Device 94 (p_out)","t":16.295,"v":1.015},{"s":"Device 94 (p_out)","t":16.304,"v":1.015},{"s":"Device 94 (p_out)","t":16.313,"v":1.024},{"s":"Device 94 (p_out)","t":16.322,"v":1.02},{"s":"Device 94 (p_out)","t":16.33,"v":1.01},{"s":"Device 94 (p_out)","t":16.339,"v":0.996},{"s":"Device 94 (p_out)","t":16.347,"v":1.015},{"s":"Device 94 (p_out)","t":16.354,"v":1.043},{"s":"Device 94 (p_out)","t":16.363,"v":1.015},{"s":"Device 94 (p_out)","t":16.372,"v":1.052},{"s":"Device 94 (p_out)","t":16.379,"v":1.08},{"s":"Device 94 (p_out)","t":16.387,"v":1.108},{"s":"Device 94 (p_out)","t":16.394,"v":1.062},{"s":"Device 94 (p_out)","t":16.401,"v":1.052},{"s":"Device 94 (p_out)","t":16.409,"v":1.094},{"s":"Device 94 (p_out)","t":16.415,"v":1.043},{"s":"Device 94 (p_out)","t":16.423,"v":0.978},{"s":"Device 94 (p_out)","t":16.429,"v":0.94},{"s":"Device 94 (p_out)","t":16.437,"v":1.006},{"s":"Device 94 (p_out)","t":16.445,"v":1.034},{"s":"Device 94 (p_out)","t":16.453,"v":1.015},{"s":"Device 94 (p_out)","t":16.459,"v":1.048},{"s":"Device 94 (p_out)","t":16.466,"v":1.001},{"s":"Device 94 (p_out)","t":16.472,"v":0.978},{"s":"Device 94 (p_out)","t":16.478,"v":0.954},{"s":"Device 94 (p_out)","t":16.485,"v":0.978},{"s":"Device 94 (p_out)","t":16.492,"v":0.954},{"s":"Device 94 (p_out)","t":16.499,"v":0.94},{"s":"Device 94 (p_out)","t":16.507,"v":0.982},{"s":"Device 94 (p_out)","t":16.516,"v":0.996},{"s":"Device 94 (p_out)","t":16.521,"v":1.006},{"s":"Device 94 (p_out)","t":16.527,"v":0.987},{"s":"Device 94 (p_out)","t":16.535,"v":0.978},{"s":"Device 94 (p_out)","t":16.543,"v":1.015},{"s":"Device 94 (p_out)","t":16.552,"v":1.024},{"s":"Device 94 (p_out)","t":16.56,"v":1.071},{"s":"Device 94 (p_out)","t":16.565,"v":1.048},{"s":"Device 94 (p_out)","t":16.574,"v":1.034},{"s":"Device 94 (p_out)","t":16.582,"v":1.052},{"s":"Device 94 (p_out)","t":16.589,"v":1.099},{"s":"Device 94 (p_out)","t":16.598,"v":1.118},{"s":"Device 94 (p_out)","t":16.607,"v":1.043},{"s":"Device 94 (p_out)","t":16.614,"v":1.09},{"s":"Device 94 (p_out)","t":16.622,"v":1.122},{"s":"Device 94 (p_out)","t":16.631,"v":1.127},{"s":"Device 94 (p_out)","t":16.64,"v":1.146},{"s":"Device 94 (p_out)","t":16.647,"v":1.118},{"s":"Device 94 (p_out)","t":16.655,"v":1.108},{"s":"Device 94 (p_out)","t":16.664,"v":1.146},{"s":"Device 94 (p_out)","t":16.673,"v":1.169},{"s":"Device 94 (p_out)","t":16.68,"v":1.132},{"s":"Device 94 (p_out)","t":16.688,"v":1.122},{"s":"Device 94 (p_out)","t":16.694,"v":1.15},{"s":"Device 94 (p_out)","t":16.702,"v":1.141},{"s":"Device 94 (p_out)","t":16.71,"v":1.122},{"s":"Device 94 (p_out)","t":16.719,"v":1.146},{"s":"Device 94 (p_out)","t":16.727,"v":1.127},{"s":"Device 94 (p_out)","t":16.735,"v":1.136},{"s":"Device 94 (p_out)","t":16.743,"v":1.118},{"s":"Device 94 (p_out)","t":16.749,"v":1.174},{"s":"Device 94 (p_out)","t":16.757,"v":1.183},{"s":"Device 94 (p_out)","t":16.762,"v":1.141},{"s":"Device 94 (p_out)","t":16.771,"v":1.146},{"s":"Device 94 (p_out)","t":16.779,"v":1.193},{"s":"Device 94 (p_out)","t":16.784,"v":1.225},{"s":"Device 94 (p_out)","t":16.791,"v":1.193},{"s":"Device 94 (p_out)","t":16.797,"v":1.174},{"s":"Device 94 (p_out)","t":16.804,"v":1.164},{"s":"Device 94 (p_out)","t":16.811,"v":1.132},{"s":"Device 94 (p_out)","t":16.817,"v":1.183},{"s":"Device 94 (p_out)","t":16.824,"v":1.216},{"s":"Device 94 (p_out)","t":16.83,"v":1.202},{"s":"Device 94 (p_out)","t":16.837,"v":1.207},{"s":"Device 94 (p_out)","t":16.844,"v":1.174},{"s":"Device 94 (p_out)","t":16.852,"v":1.155},{"s":"Device 94 (p_out)","t":16.861,"v":1.183},{"s":"Device 94 (p_out)","t":16.869,"v":1.15},{"s":"Device 94 (p_out)","t":16.875,"v":1.197},{"s":"Device 94 (p_out)","t":16.883,"v":1.136},{"s":"Device 94 (p_out)","t":16.889,"v":1.122},{"s":"Device 94 (p_out)","t":16.896,"v":1.127},{"s":"Device 94 (p_out)","t":16.903,"v":1.113},{"s":"Device 94 (p_out)","t":16.909,"v":1.085},{"s":"Device 94 (p_out)","t":16.916,"v":1.113},{"s":"Device 94 (p_out)","t":16.924,"v":1.057},{"s":"Device 94 (p_out)","t":16.932,"v":1.052},{"s":"Device 94 (p_out)","t":16.94,"v":1.071},{"s":"Device 94 (p_out)","t":16.946,"v":1.062},{"s":"Device 94 (p_out)","t":16.954,"v":1.076},{"s":"Device 94 (p_out)","t":16.962,"v":1.034},{"s":"Device 94 (p_out)","t":16.968,"v":1.01},{"s":"Device 94 (p_out)","t":16.975,"v":1.048},{"s":"Device 94 (p_out)","t":16.981,"v":1.062},{"s":"Device 94 (p_out)","t":16.989,"v":1.085},{"s":"Device 94 (p_out)","t":16.996,"v":1.099},{"s":"Device 94 (p_out)","t":17.001,"v":1.024},{"s":"Device 94 (p_out)","t":17.009,"v":1.052},{"s":"Device 94 (p_out)","t":17.016,"v":1.038},{"s":"Device 94 (p_out)","t":17.023,"v":1.08},{"s":"Device 94 (p_out)","t":17.03,"v":1.024},{"s":"Device 94 (p_out)","t":17.036,"v":1.038},{"s":"Device 94 (p_out)","t":17.045,"v":1.02},{"s":"Device 94 (p_out)","t":17.051,"v":1.001},{"s":"Device 94 (p_out)","t":17.058,"v":1.062},{"s":"Device 94 (p_out)","t":17.065,"v":1.099},{"s":"Device 94 (p_out)","t":17.071,"v":1.062},{"s":"Device 94 (p_out)","t":17.078,"v":1.113},{"s":"Device 94 (p_out)","t":17.085,"v":1.038},{"s":"Device 94 (p_out)","t":17.091,"v":1.104},{"s":"Device 94 (p_out)","t":17.1,"v":1.062},{"s":"Device 94 (p_out)","t":17.107,"v":1.094},{"s":"Device 94 (p_out)","t":17.113,"v":1.034},{"s":"Device 94 (p_out)","t":17.119,"v":1.08},{"s":"Device 94 (p_out)","t":17.126,"v":1.052},{"s":"Device 94 (p_out)","t":17.133,"v":1.006},{"s":"Device 94 (p_out)","t":17.14,"v":1.006},{"s":"Device 94 (p_out)","t":17.148,"v":0.982},{"s":"Device 94 (p_out)","t":17.154,"v":0.973},{"s":"Device 94 (p_out)","t":17.162,"v":0.996},{"s":"Device 94 (p_out)","t":17.17,"v":0.987},{"s":"Device 94 (p_out)","t":17.176,"v":0.992},{"s":"Device 94 (p_out)","t":17.184,"v":1.001},{"s":"Device 94 (p_out)","t":17.192,"v":0.978},{"s":"Device 94 (p_out)","t":17.198,"v":1.024},{"s":"Device 94 (p_out)","t":17.206,"v":0.987},{"s":"Device 94 (p_out)","t":17.211,"v":1.034},{"s":"Device 94 (p_out)","t":17.22,"v":1.006},{"s":"Device 94 (p_out)","t":17.228,"v":0.992},{"s":"Device 94 (p_out)","t":17.235,"v":1.015},{"s":"Device 94 (p_out)","t":17.242,"v":1.024},{"s":"Device 94 (p_out)","t":17.25,"v":0.996},{"s":"Device 94 (p_out)","t":17.257,"v":0.987},{"s":"Device 94 (p_out)","t":17.266,"v":0.959},{"s":"Device 94 (p_out)","t":17.273,"v":0.996},{"s":"Device 94 (p_out)","t":17.279,"v":0.982},{"s":"Device 94 (p_out)","t":17.286,"v":1.015},{"s":"Device 94 (p_out)","t":17.295,"v":1.02},{"s":"Device 94 (p_out)","t":17.301,"v":0.94},{"s":"Device 94 (p_out)","t":17.308,"v":0.95},{"s":"Device 94 (p_out)","t":17.315,"v":0.964},{"s":"Device 94 (p_out)","t":17.323,"v":0.95},{"s":"Device 94 (p_out)","t":17.332,"v":0.987},{"s":"Device 94 (p_out)","t":17.338,"v":0.968},{"s":"Device 94 (p_out)","t":17.345,"v":0.959},{"s":"Device 94 (p_out)","t":17.352,"v":0.968},{"s":"Device 94 (p_out)","t":17.359,"v":0.964},{"s":"Device 94 (p_out)","t":17.367,"v":0.996},{"s":"Device 94 (p_out)","t":17.373,"v":1.01},{"s":"Device 94 (p_out)","t":17.381,"v":0.973},{"s":"Device 94 (p_out)","t":17.389,"v":0.936},{"s":"Device 94 (p_out)","t":17.395,"v":0.996},{"s":"Device 94 (p_out)","t":17.403,"v":0.996},{"s":"Device 94 (p_out)","t":17.411,"v":0.987},{"s":"Device 94 (p_out)","t":17.417,"v":0.996},{"s":"Device 94 (p_out)","t":17.425,"v":0.954},{"s":"Device 94 (p_out)","t":17.433,"v":0.968},{"s":"Device 94 (p_out)","t":17.441,"v":0.968},{"s":"Device 94 (p_out)","t":17.448,"v":0.945},{"s":"Device 94 (p_out)","t":17.457,"v":0.94},{"s":"Device 94 (p_out)","t":17.463,"v":0.959},{"s":"Device 94 (p_out)","t":17.47,"v":0.94},{"s":"Device 94 (p_out)","t":17.478,"v":0.931},{"s":"Device 94 (p_out)","t":17.485,"v":0.982},{"s":"Device 94 (p_out)","t":17.492,"v":0.94},{"s":"Device 94 (p_out)","t":17.498,"v":0.912},{"s":"Device 94 (p_out)","t":17.505,"v":0.95},{"s":"Device 94 (p_out)","t":17.511,"v":0.95},{"s":"Device 94 (p_out)","t":17.52,"v":0.978},{"s":"Device 94 (p_out)","t":17.527,"v":0.954},{"s":"Device 94 (p_out)","t":17.534,"v":0.978},{"s":"Device 94 (p_out)","t":17.54,"v":0.987},{"s":"Device 94 (p_out)","t":17.547,"v":0.996},{"s":"Device 94 (p_out)","t":17.553,"v":0.94},{"s":"Device 94 (p_out)","t":17.56,"v":0.94},{"s":"Device 94 (p_out)","t":17.566,"v":0.996},{"s":"Device 94 (p_out)","t":17.573,"v":1.001},{"s":"Device 94 (p_out)","t":17.579,"v":0.978},{"s":"Device 94 (p_out)","t":17.586,"v":0.996},{"s":"Device 94 (p_out)","t":17.593,"v":1.015},{"s":"Device 94 (p_out)","t":17.6,"v":1.034},{"s":"Device 94 (p_out)","t":17.608,"v":0.987},{"s":"Device 94 (p_out)","t":17.614,"v":0.978},{"s":"Device 94 (p_out)","t":17.622,"v":0.968},{"s":"Device 94 (p_out)","t":17.63,"v":0.996},{"s":"Device 94 (p_out)","t":17.639,"v":1.034},{"s":"Device 94 (p_out)","t":17.645,"v":0.996},{"s":"Device 94 (p_out)","t":17.652,"v":0.992},{"s":"Device 94 (p_out)","t":17.66,"v":1.034},{"s":"Device 94 (p_out)","t":17.667,"v":1.062},{"s":"Device 94 (p_out)","t":17.674,"v":1.09},{"s":"Device 94 (p_out)","t":17.68,"v":1.043},{"s":"Device 94 (p_out)","t":17.688,"v":1.024},{"s":"Device 94 (p_out)","t":17.696,"v":1.062},{"s":"Device 94 (p_out)","t":17.702,"v":1.108},{"s":"Device 94 (p_out)","t":17.71,"v":1.146},{"s":"Device 94 (p_out)","t":17.717,"v":1.127},{"s":"Device 94 (p_out)","t":17.724,"v":1.062},{"s":"Device 94 (p_out)","t":17.732,"v":1.09},{"s":"Device 94 (p_out)","t":17.739,"v":1.155},{"s":"Device 94 (p_out)","t":17.746,"v":1.099},{"s":"Device 94 (p_out)","t":17.754,"v":1.118},{"s":"Device 94 (p_out)","t":17.759,"v":1.146},{"s":"Device 94 (p_out)","t":17.766,"v":1.09},{"s":"Device 94 (p_out)","t":17.772,"v":1.127},{"s":"Device 94 (p_out)","t":17.779,"v":1.108},{"s":"Device 94 (p_out)","t":17.785,"v":1.16},{"s":"Device 94 (p_out)","t":17.792,"v":1.164},{"s":"Device 94 (p_out)","t":17.798,"v":1.146},{"s":"Device 94 (p_out)","t":17.805,"v":1.118},{"s":"Device 94 (p_out)","t":17.812,"v":1.108},{"s":"Device 94 (p_out)","t":17.818,"v":1.09},{"s":"Device 94 (p_out)","t":17.825,"v":1.136},{"s":"Device 94 (p_out)","t":17.831,"v":1.146},{"s":"Device 94 (p_out)","t":17.838,"v":1.197},{"s":"Device 94 (p_out)","t":17.844,"v":1.202},{"s":"Device 94 (p_out)","t":17.851,"v":1.174},{"s":"Device 94 (p_out)","t":17.858,"v":1.127},{"s":"Device 94 (p_out)","t":17.864,"v":1.099},{"s":"Device 94 (p_out)","t":17.871,"v":1.118},{"s":"Device 94 (p_out)","t":17.877,"v":1.127},{"s":"Device 94 (p_out)","t":17.884,"v":1.08},{"s":"Device 94 (p_out)","t":17.89,"v":1.043},{"s":"Device 94 (p_out)","t":17.897,"v":1.071},{"s":"Device 94 (p_out)","t":17.904,"v":1.09},{"s":"Device 94 (p_out)","t":17.91,"v":1.043},{"s":"Device 94 (p_out)","t":17.917,"v":1.024},{"s":"Device 94 (p_out)","t":17.923,"v":1.034},{"s":"Device 94 (p_out)","t":17.93,"v":1.006},{"s":"Device 94 (p_out)","t":17.936,"v":1.034},{"s":"Device 94 (p_out)","t":17.943,"v":0.996},{"s":"Device 94 (p_out)","t":17.95,"v":1.006},{"s":"Device 94 (p_out)","t":17.956,"v":0.978},{"s":"Device 94 (p_out)","t":17.963,"v":0.996},{"s":"Device 94 (p_out)","t":17.969,"v":0.982},{"s":"Device 94 (p_out)","t":17.976,"v":1.02},{"s":"Device 94 (p_out)","t":17.982,"v":1.024},{"s":"Device 94 (p_out)","t":17.987,"v":0.959},{"s":"Device 94 (p_out)","t":17.991,"v":0.95},{"s":"Device 94 (p_out)","t":17.996,"v":0.856},{"s":"Device 94 (p_out)","t":17.998,"v":0.828}
    ],
    "resid": [
      {"s":"Device B8 (p_in)","t":15,"r":-0.403},{"s":"Device B8 (p_in)","t":15.005,"r":-0.412},{"s":"Device B8 (p_in)","t":15.009,"r":-0.361},{"s":"Device B8 (p_in)","t":15.016,"r":-0.338},{"s":"Device B8 (p_in)","t":15.022,"r":-0.339},{"s":"Device B8 (p_in)","t":15.027,"r":-0.419},{"s":"Device B8 (p_in)","t":15.033,"r":-0.363},{"s":"Device B8 (p_in)","t":15.044,"r":-0.28},{"s":"Device B8 (p_in)","t":15.052,"r":-0.303},{"s":"Device B8 (p_in)","t":15.06,"r":-0.253},{"s":"Device B8 (p_in)","t":15.068,"r":-0.263},{"s":"Device B8 (p_in)","t":15.076,"r":-0.31},{"s":"Device B8 (p_in)","t":15.085,"r":-0.3},{"s":"Device B8 (p_in)","t":15.096,"r":-0.362},{"s":"Device B8 (p_in)","t":15.107,"r":-0.363},{"s":"Device B8 (p_in)","t":15.115,"r":-0.335},{"s":"Device B8 (p_in)","t":15.125,"r":-0.35},{"s":"Device B8 (p_in)","t":15.133,"r":-0.322},{"s":"Device B8 (p_in)","t":15.138,"r":-0.238},{"s":"Device B8 (p_in)","t":15.144,"r":-0.172},{"s":"Device B8 (p_in)","t":15.153,"r":-0.248},{"s":"Device B8 (p_in)","t":15.161,"r":-0.221},{"s":"Device B8 (p_in)","t":15.169,"r":-0.204},{"s":"Device B8 (p_in)","t":15.177,"r":-0.11},{"s":"Device B8 (p_in)","t":15.183,"r":-0.045},{"s":"Device B8 (p_in)","t":15.194,"r":-0.008},{"s":"Device B8 (p_in)","t":15.202,"r":0.037},{"s":"Device B8 (p_in)","t":15.213,"r":0},{"s":"Device B8 (p_in)","t":15.22,"r":0.036},{"s":"Device B8 (p_in)","t":15.229,"r":0.119},{"s":"Device B8 (p_in)","t":15.237,"r":0.091},{"s":"Device B8 (p_in)","t":15.245,"r":0.045},{"s":"Device B8 (p_in)","t":15.253,"r":0.09},{"s":"Device B8 (p_in)","t":15.26,"r":0.135},{"s":"Device B8 (p_in)","t":15.266,"r":0.09},{"s":"Device B8 (p_in)","t":15.273,"r":0.085},{"s":"Device B8 (p_in)","t":15.279,"r":0.015},{"s":"Device B8 (p_in)","t":15.287,"r":0.074},{"s":"Device B8 (p_in)","t":15.292,"r":0.014},{"s":"Device B8 (p_in)","t":15.3,"r":-0.062},{"s":"Device B8 (p_in)","t":15.308,"r":-0.104},{"s":"Device B8 (p_in)","t":15.316,"r":-0.091},{"s":"Device B8 (p_in)","t":15.325,"r":-0.119},{"s":"Device B8 (p_in)","t":15.332,"r":-0.106},{"s":"Device B8 (p_in)","t":15.338,"r":-0.13},{"s":"Device B8 (p_in)","t":15.347,"r":-0.205},{"s":"Device B8 (p_in)","t":15.357,"r":-0.219},{"s":"Device B8 (p_in)","t":15.365,"r":-0.178},{"s":"Device B8 (p_in)","t":15.374,"r":-0.16},{"s":"Device B8 (p_in)","t":15.382,"r":-0.212},{"s":"Device B8 (p_in)","t":15.39,"r":-0.179},{"s":"Device B8 (p_in)","t":15.403,"r":-0.256},{"s":"Device B8 (p_in)","t":15.414,"r":-0.186},{"s":"Device B8 (p_in)","t":15.425,"r":-0.229},{"s":"Device B8 (p_in)","t":15.436,"r":-0.253},{"s":"Device B8 (p_in)","t":15.445,"r":-0.221},{"s":"Device B8 (p_in)","t":15.458,"r":-0.189},{"s":"Device B8 (p_in)","t":15.467,"r":-0.185},{"s":"Device B8 (p_in)","t":15.48,"r":-0.321},{"s":"Device B8 (p_in)","t":15.486,"r":-0.28},{"s":"Device B8 (p_in)","t":15.496,"r":-0.21},{"s":"Device B8 (p_in)","t":15.507,"r":-0.22},{"s":"Device B8 (p_in)","t":15.513,"r":-0.187},{"s":"Device B8 (p_in)","t":15.521,"r":-0.216},{"s":"Device B8 (p_in)","t":15.534,"r":-0.171},{"s":"Device B8 (p_in)","t":15.54,"r":-0.199},{"s":"Device B8 (p_in)","t":15.549,"r":-0.144},{"s":"Device B8 (p_in)","t":15.556,"r":-0.209},{"s":"Device B8 (p_in)","t":15.565,"r":-0.21},{"s":"Device B8 (p_in)","t":15.573,"r":-0.243},{"s":"Device B8 (p_in)","t":15.583,"r":-0.248},{"s":"Device B8 (p_in)","t":15.591,"r":-0.318},{"s":"Device B8 (p_in)","t":15.602,"r":-0.324},{"s":"Device B8 (p_in)","t":15.611,"r":-0.339},{"s":"Device B8 (p_in)","t":15.619,"r":-0.391},{"s":"Device B8 (p_in)","t":15.624,"r":-0.457},{"s":"Device B8 (p_in)","t":15.628,"r":-0.541},{"s":"Device B8 (p_in)","t":15.635,"r":-0.55},{"s":"Device B8 (p_in)","t":15.641,"r":-0.561},{"s":"Device B8 (p_in)","t":15.649,"r":-0.636},{"s":"Device B8 (p_in)","t":15.654,"r":-0.682},{"s":"Device B8 (p_in)","t":15.661,"r":-0.739},{"s":"Device B8 (p_in)","t":15.667,"r":-0.693},{"s":"Device B8 (p_in)","t":15.676,"r":-0.689},{"s":"Device B8 (p_in)","t":15.687,"r":-0.74},{"s":"Device B8 (p_in)","t":15.694,"r":-0.676},{"s":"Device B8 (p_in)","t":15.7,"r":-0.629},{"s":"Device B8 (p_in)","t":15.707,"r":-0.724},{"s":"Device B8 (p_in)","t":15.714,"r":-0.705},{"s":"Device B8 (p_in)","t":15.725,"r":-0.598},{"s":"Device B8 (p_in)","t":15.733,"r":-0.626},{"s":"Device B8 (p_in)","t":15.742,"r":-0.707},{"s":"Device B8 (p_in)","t":15.75,"r":-0.73},{"s":"Device B8 (p_in)","t":15.759,"r":-0.614},{"s":"Device B8 (p_in)","t":15.766,"r":-0.577},{"s":"Device B8 (p_in)","t":15.77,"r":-0.672},{"s":"Device B8 (p_in)","t":15.779,"r":-0.798},{"s":"Device B8 (p_in)","t":15.785,"r":-0.757},{"s":"Device B8 (p_in)","t":15.794,"r":-0.719},{"s":"Device B8 (p_in)","t":15.802,"r":-0.758},{"s":"Device B8 (p_in)","t":15.809,"r":-0.702},{"s":"Device B8 (p_in)","t":15.816,"r":-0.656},{"s":"Device B8 (p_in)","t":15.823,"r":-0.693},{"s":"Device B8 (p_in)","t":15.831,"r":-0.75},{"s":"Device B8 (p_in)","t":15.84,"r":-0.76},{"s":"Device B8 (p_in)","t":15.848,"r":-0.695},{"s":"Device B8 (p_in)","t":15.856,"r":-0.63},{"s":"Device B8 (p_in)","t":15.864,"r":-0.561},{"s":"Device B8 (p_in)","t":15.87,"r":-0.659},{"s":"Device B8 (p_in)","t":15.878,"r":-0.613},{"s":"Device B8 (p_in)","t":15.885,"r":-0.543},{"s":"Device B8 (p_in)","t":15.894,"r":-0.567},{"s":"Device B8 (p_in)","t":15.903,"r":-0.586},{"s":"Device B8 (p_in)","t":15.911,"r":-0.559},{"s":"Device B8 (p_in)","t":15.918,"r":-0.508},{"s":"Device B8 (p_in)","t":15.927,"r":-0.523},{"s":"Device B8 (p_in)","t":15.936,"r":-0.467},{"s":"Device B8 (p_in)","t":15.943,"r":-0.412},{"s":"Device B8 (p_in)","t":15.951,"r":-0.458},{"s":"Device B8 (p_in)","t":15.96,"r":-0.469},{"s":"Device B8 (p_in)","t":15.966,"r":-0.431},{"s":"Device B8 (p_in)","t":15.976,"r":-0.423},{"s":"Device B8 (p_in)","t":15.984,"r":-0.414},{"s":"Device B8 (p_in)","t":15.992,"r":-0.391},{"s":"Device B8 (p_in)","t":16.001,"r":-0.358},{"s":"Device B8 (p_in)","t":16.009,"r":-0.387},{"s":"Device B8 (p_in)","t":16.014,"r":-0.345},{"s":"Device B8 (p_in)","t":16.025,"r":-0.337},{"s":"Device B8 (p_in)","t":16.036,"r":-0.343},{"s":"Device B8 (p_in)","t":16.047,"r":-0.352},{"s":"Device B8 (p_in)","t":16.052,"r":-0.316},{"s":"Device B8 (p_in)","t":16.06,"r":-0.288},{"s":"Device B8 (p_in)","t":16.069,"r":-0.261},{"s":"Device B8 (p_in)","t":16.077,"r":-0.27},{"s":"Device B8 (p_in)","t":16.082,"r":-0.327},{"s":"Device B8 (p_in)","t":16.09,"r":-0.28},{"s":"Device B8 (p_in)","t":16.096,"r":-0.229},{"s":"Device B8 (p_in)","t":16.107,"r":-0.225},{"s":"Device B8 (p_in)","t":16.116,"r":-0.212},{"s":"Device B8 (p_in)","t":16.123,"r":-0.25},{"s":"Device B8 (p_in)","t":16.131,"r":-0.293},{"s":"Device B8 (p_in)","t":16.136,"r":-0.255},{"s":"Device B8 (p_in)","t":16.143,"r":-0.19},{"s":"Device B8 (p_in)","t":16.151,"r":-0.186},{"s":"Device B8 (p_in)","t":16.158,"r":-0.191},{"s":"Device B8 (p_in)","t":16.167,"r":-0.164},{"s":"Device B8 (p_in)","t":16.176,"r":-0.154},{"s":"Device B8 (p_in)","t":16.184,"r":-0.202},{"s":"Device B8 (p_in)","t":16.194,"r":-0.241},{"s":"Device B8 (p_in)","t":16.202,"r":-0.213},{"s":"Device B8 (p_in)","t":16.21,"r":-0.218},{"s":"Device B8 (p_in)","t":16.221,"r":-0.214},{"s":"Device B8 (p_in)","t":16.23,"r":-0.187},{"s":"Device B8 (p_in)","t":16.238,"r":-0.168},{"s":"Device B8 (p_in)","t":16.245,"r":-0.136},{"s":"Device B8 (p_in)","t":16.254,"r":-0.141},{"s":"Device B8 (p_in)","t":16.263,"r":-0.09},{"s":"Device B8 (p_in)","t":16.269,"r":-0.114},{"s":"Device B8 (p_in)","t":16.276,"r":-0.143},{"s":"Device B8 (p_in)","t":16.287,"r":-0.157},{"s":"Device B8 (p_in)","t":16.296,"r":-0.148},{"s":"Device B8 (p_in)","t":16.303,"r":-0.116},{"s":"Device B8 (p_in)","t":16.309,"r":-0.023},{"s":"Device B8 (p_in)","t":16.317,"r":0.051},{"s":"Device B8 (p_in)","t":16.325,"r":0.008},{"s":"Device B8 (p_in)","t":16.33,"r":0.032},{"s":"Device B8 (p_in)","t":16.338,"r":0.021},{"s":"Device B8 (p_in)","t":16.347,"r":0.092},{"s":"Device B8 (p_in)","t":16.354,"r":0.067},{"s":"Device B8 (p_in)","t":16.361,"r":0.025},{"s":"Device B8 (p_in)","t":16.369,"r":0.066},{"s":"Device B8 (p_in)","t":16.377,"r":0.094},{"s":"Device B8 (p_in)","t":16.385,"r":0.037},{"s":"Device B8 (p_in)","t":16.394,"r":0.084},{"s":"Device B8 (p_in)","t":16.401,"r":0.073},{"s":"Device B8 (p_in)","t":16.409,"r":0.097},{"s":"Device B8 (p_in)","t":16.418,"r":0.077},{"s":"Device B8 (p_in)","t":16.426,"r":0.082},{"s":"Device B8 (p_in)","t":16.439,"r":0.071},{"s":"Device B8 (p_in)","t":16.448,"r":0.089},{"s":"Device B8 (p_in)","t":16.456,"r":0.103},{"s":"Device B8 (p_in)","t":16.467,"r":0.102},{"s":"Device B8 (p_in)","t":16.478,"r":0.092},{"s":"Device B8 (p_in)","t":16.494,"r":0.086},{"s":"Device B8 (p_in)","t":16.505,"r":0.067},{"s":"Device B8 (p_in)","t":16.513,"r":0.001},{"s":"Device B8 (p_in)","t":16.519,"r":-0.083},{"s":"Device B8 (p_in)","t":16.527,"r":-0.187},{"s":"Device B8 (p_in)","t":16.532,"r":-0.14},{"s":"Device B8 (p_in)","t":16.541,"r":-0.048},{"s":"Device B8 (p_in)","t":16.547,"r":-0.048},{"s":"Device B8 (p_in)","t":16.552,"r":-0.123},{"s":"Device B8 (p_in)","t":16.56,"r":-0.226},{"s":"Device B8 (p_in)","t":16.565,"r":-0.179},{"s":"Device B8 (p_in)","t":16.571,"r":-0.198},{"s":"Device B8 (p_in)","t":16.576,"r":-0.264},{"s":"Device B8 (p_in)","t":16.585,"r":-0.311},{"s":"Device B8 (p_in)","t":16.593,"r":-0.303},{"s":"Device B8 (p_in)","t":16.598,"r":-0.359},{"s":"Device B8 (p_in)","t":16.607,"r":-0.369},{"s":"Device B8 (p_in)","t":16.614,"r":-0.379},{"s":"Device B8 (p_in)","t":16.622,"r":-0.426},{"s":"Device B8 (p_in)","t":16.629,"r":-0.492},{"s":"Device B8 (p_in)","t":16.636,"r":-0.521},{"s":"Device B8 (p_in)","t":16.644,"r":-0.437},{"s":"Device B8 (p_in)","t":16.653,"r":-0.503},{"s":"Device B8 (p_in)","t":16.66,"r":-0.522},{"s":"Device B8 (p_in)","t":16.669,"r":-0.486},{"s":"Device B8 (p_in)","t":16.677,"r":-0.504},{"s":"Device B8 (p_in)","t":16.686,"r":-0.487},{"s":"Device B8 (p_in)","t":16.694,"r":-0.505},{"s":"Device B8 (p_in)","t":16.702,"r":-0.464},{"s":"Device B8 (p_in)","t":16.71,"r":-0.497},{"s":"Device B8 (p_in)","t":16.716,"r":-0.535},{"s":"Device B8 (p_in)","t":16.724,"r":-0.507},{"s":"Device B8 (p_in)","t":16.732,"r":-0.574},{"s":"Device B8 (p_in)","t":16.738,"r":-0.62},{"s":"Device B8 (p_in)","t":16.746,"r":-0.565},{"s":"Device B8 (p_in)","t":16.754,"r":-0.603},{"s":"Device B8 (p_in)","t":16.762,"r":-0.632},{"s":"Device B8 (p_in)","t":16.77,"r":-0.604},{"s":"Device B8 (p_in)","t":16.777,"r":-0.637},{"s":"Device B8 (p_in)","t":16.784,"r":-0.586},{"s":"Device B8 (p_in)","t":16.79,"r":-0.633},{"s":"Device B8 (p_in)","t":16.797,"r":-0.643},{"s":"Device B8 (p_in)","t":16.806,"r":-0.638},{"s":"Device B8 (p_in)","t":16.815,"r":-0.663},{"s":"Device B8 (p_in)","t":16.823,"r":-0.71},{"s":"Device B8 (p_in)","t":16.83,"r":-0.739},{"s":"Device B8 (p_in)","t":16.837,"r":-0.762},{"s":"Device B8 (p_in)","t":16.844,"r":-0.749},{"s":"Device B8 (p_in)","t":16.852,"r":-0.702},{"s":"Device B8 (p_in)","t":16.861,"r":-0.628},{"s":"Device B8 (p_in)","t":16.87,"r":-0.582},{"s":"Device B8 (p_in)","t":16.878,"r":-0.564},{"s":"Device B8 (p_in)","t":16.885,"r":-0.489},{"s":"Device B8 (p_in)","t":16.892,"r":-0.406},{"s":"Device B8 (p_in)","t":16.898,"r":-0.359},{"s":"Device B8 (p_in)","t":16.905,"r":-0.407},{"s":"Device B8 (p_in)","t":16.913,"r":-0.351},{"s":"Device B8 (p_in)","t":16.921,"r":-0.287},{"s":"Device B8 (p_in)","t":16.929,"r":-0.249},{"s":"Device B8 (p_in)","t":16.938,"r":-0.236},{"s":"Device B8 (p_in)","t":16.946,"r":-0.185},{"s":"Device B8 (p_in)","t":16.955,"r":-0.12},{"s":"Device B8 (p_in)","t":16.962,"r":-0.111},{"s":"Device B8 (p_in)","t":16.97,"r":-0.093},{"s":"Device B8 (p_in)","t":16.979,"r":-0.065},{"s":"Device B8 (p_in)","t":16.987,"r":-0.085},{"s":"Device B8 (p_in)","t":16.992,"r":-0.057},{"s":"Device B8 (p_in)","t":16.997,"r":-0.16},{"s":"Device B8 (p_in)","t":17.003,"r":-0.039},{"s":"Device B8 (p_in)","t":17.012,"r":-0.002},{"s":"Device B8 (p_in)","t":17.02,"r":-0.068},{"s":"Device B8 (p_in)","t":17.025,"r":-0.115},{"s":"Device B8 (p_in)","t":17.034,"r":-0.004},{"s":"Device B8 (p_in)","t":17.042,"r":-0.051},{"s":"Device B8 (p_in)","t":17.049,"r":-0.08},{"s":"Device B8 (p_in)","t":17.058,"r":-0.07},{"s":"Device B8 (p_in)","t":17.067,"r":-0.043},{"s":"Device B8 (p_in)","t":17.076,"r":-0.081},{"s":"Device B8 (p_in)","t":17.082,"r":-0.072},{"s":"Device B8 (p_in)","t":17.089,"r":-0.11},{"s":"Device B8 (p_in)","t":17.095,"r":-0.092},{"s":"Device B8 (p_in)","t":17.102,"r":-0.027},{"s":"Device B8 (p_in)","t":17.11,"r":0.01},{"s":"Device B8 (p_in)","t":17.118,"r":0.019},{"s":"Device B8 (p_in)","t":17.126,"r":-0.01},{"s":"Device B8 (p_in)","t":17.135,"r":0.037},{"s":"Device B8 (p_in)","t":17.143,"r":0.055},{"s":"Device B8 (p_in)","t":17.152,"r":0.083},{"s":"Device B8 (p_in)","t":17.157,"r":0.054},{"s":"Device B8 (p_in)","t":17.163,"r":0.007},{"s":"Device B8 (p_in)","t":17.168,"r":0.035},{"s":"Device B8 (p_in)","t":17.174,"r":-0.013},{"s":"Device B8 (p_in)","t":17.181,"r":0.006},{"s":"Device B8 (p_in)","t":17.187,"r":0.053},{"s":"Device B8 (p_in)","t":17.194,"r":0.033},{"s":"Device B8 (p_in)","t":17.2,"r":-0.014},{"s":"Device B8 (p_in)","t":17.207,"r":0.041},{"s":"Device B8 (p_in)","t":17.214,"r":0.079},{"s":"Device B8 (p_in)","t":17.222,"r":0.101},{"s":"Device B8 (p_in)","t":17.231,"r":0.087},{"s":"Device B8 (p_in)","t":17.239,"r":0.114},{"s":"Device B8 (p_in)","t":17.246,"r":0.147},{"s":"Device B8 (p_in)","t":17.253,"r":0.099},{"s":"Device B8 (p_in)","t":17.261,"r":0.094},{"s":"Device B8 (p_in)","t":17.268,"r":0.056},{"s":"Device B8 (p_in)","t":17.275,"r":0.037},{"s":"Device B8 (p_in)","t":17.283,"r":0.074},{"s":"Device B8 (p_in)","t":17.29,"r":0.064},{"s":"Device B8 (p_in)","t":17.297,"r":-0.001},{"s":"Device B8 (p_in)","t":17.304,"r":0.073},{"s":"Device B8 (p_in)","t":17.312,"r":0.11},{"s":"Device B8 (p_in)","t":17.321,"r":0.09},{"s":"Device B8 (p_in)","t":17.332,"r":0.071},{"s":"Device B8 (p_in)","t":17.341,"r":0.099},{"s":"Device B8 (p_in)","t":17.348,"r":0.163},{"s":"Device B8 (p_in)","t":17.356,"r":0.135},{"s":"Device B8 (p_in)","t":17.365,"r":0.139},{"s":"Device B8 (p_in)","t":17.371,"r":0.115},{"s":"Device B8 (p_in)","t":17.378,"r":0.152},{"s":"Device B8 (p_in)","t":17.387,"r":0.096},{"s":"Device B8 (p_in)","t":17.393,"r":0.118},{"s":"Device B8 (p_in)","t":17.4,"r":0.16},{"s":"Device B8 (p_in)","t":17.409,"r":0.131},{"s":"Device B8 (p_in)","t":17.417,"r":0.159},{"s":"Device B8 (p_in)","t":17.425,"r":0.186},{"s":"Device B8 (p_in)","t":17.43,"r":0.228},{"s":"Device B8 (p_in)","t":17.437,"r":0.237},{"s":"Device B8 (p_in)","t":17.444,"r":0.199},{"s":"Device B8 (p_in)","t":17.45,"r":0.18},{"s":"Device B8 (p_in)","t":17.457,"r":0.175},{"s":"Device B8 (p_in)","t":17.463,"r":0.165},{"s":"Device B8 (p_in)","t":17.47,"r":0.17},{"s":"Device B8 (p_in)","t":17.476,"r":0.183},{"s":"Device B8 (p_in)","t":17.483,"r":0.174},{"s":"Device B8 (p_in)","t":17.49,"r":0.219},{"s":"Device B8 (p_in)","t":17.496,"r":0.154},{"s":"Device B8 (p_in)","t":17.503,"r":0.028},{"s":"Device B8 (p_in)","t":17.509,"r":0.078},{"s":"Device B8 (p_in)","t":17.516,"r":0.19},{"s":"Device B8 (p_in)","t":17.524,"r":0.255},{"s":"Device B8 (p_in)","t":17.529,"r":0.269},{"s":"Device B8 (p_in)","t":17.536,"r":0.258},{"s":"Device B8 (p_in)","t":17.542,"r":0.207},{"s":"Device B8 (p_in)","t":17.549,"r":0.142},{"s":"Device B8 (p_in)","t":17.553,"r":0.113},{"s":"Device B8 (p_in)","t":17.56,"r":0.169},{"s":"Device B8 (p_in)","t":17.564,"r":0.206},{"s":"Device B8 (p_in)","t":17.571,"r":0.21},{"s":"Device B8 (p_in)","t":17.575,"r":0.14},{"s":"Device B8 (p_in)","t":17.582,"r":0.018},{"s":"Device B8 (p_in)","t":17.589,"r":-0.048},{"s":"Device B8 (p_in)","t":17.595,"r":-0.086},{"s":"Device B8 (p_in)","t":17.601,"r":-0.04},{"s":"Device B8 (p_in)","t":17.608,"r":-0.059},{"s":"Device B8 (p_in)","t":17.614,"r":-0.077},{"s":"Device B8 (p_in)","t":17.623,"r":-0.13},{"s":"Device B8 (p_in)","t":17.63,"r":-0.078},{"s":"Device B8 (p_in)","t":17.636,"r":-0.014},{"s":"Device B8 (p_in)","t":17.644,"r":-0.07},{"s":"Device B8 (p_in)","t":17.652,"r":-0.08},{"s":"Device B8 (p_in)","t":17.66,"r":-0.062},{"s":"Device B8 (p_in)","t":17.666,"r":-0.128},{"s":"Device B8 (p_in)","t":17.674,"r":-0.175},{"s":"Device B8 (p_in)","t":17.682,"r":-0.157},{"s":"Device B8 (p_in)","t":17.689,"r":-0.138},{"s":"Device B8 (p_in)","t":17.693,"r":-0.204},{"s":"Device B8 (p_in)","t":17.702,"r":-0.289},{"s":"Device B8 (p_in)","t":17.71,"r":-0.309},{"s":"Device B8 (p_in)","t":17.717,"r":-0.355},{"s":"Device B8 (p_in)","t":17.724,"r":-0.347},{"s":"Device B8 (p_in)","t":17.732,"r":-0.263},{"s":"Device B8 (p_in)","t":17.739,"r":-0.367},{"s":"Device B8 (p_in)","t":17.748,"r":-0.385},{"s":"Device B8 (p_in)","t":17.755,"r":-0.405},{"s":"Device B8 (p_in)","t":17.761,"r":-0.424},{"s":"Device B8 (p_in)","t":17.768,"r":-0.397},{"s":"Device B8 (p_in)","t":17.775,"r":-0.453},{"s":"Device B8 (p_in)","t":17.783,"r":-0.491},{"s":"Device B8 (p_in)","t":17.79,"r":-0.416},{"s":"Device B8 (p_in)","t":17.796,"r":-0.491},{"s":"Device B8 (p_in)","t":17.803,"r":-0.408},{"s":"Device B8 (p_in)","t":17.809,"r":-0.473},{"s":"Device B8 (p_in)","t":17.818,"r":-0.408},{"s":"Device B8 (p_in)","t":17.825,"r":-0.474},{"s":"Device B8 (p_in)","t":17.831,"r":-0.54},{"s":"Device B8 (p_in)","t":17.838,"r":-0.541},{"s":"Device B8 (p_in)","t":17.845,"r":-0.588},{"s":"Device B8 (p_in)","t":17.851,"r":-0.592},{"s":"Device B8 (p_in)","t":17.858,"r":-0.514},{"s":"Device B8 (p_in)","t":17.864,"r":-0.467},{"s":"Device B8 (p_in)","t":17.871,"r":-0.403},{"s":"Device B8 (p_in)","t":17.878,"r":-0.337},{"s":"Device B8 (p_in)","t":17.885,"r":-0.226},{"s":"Device B8 (p_in)","t":17.891,"r":-0.17},{"s":"Device B8 (p_in)","t":17.896,"r":-0.095},{"s":"Device B8 (p_in)","t":17.901,"r":-0.003},{"s":"Device B8 (p_in)","t":17.91,"r":0.025},{"s":"Device B8 (p_in)","t":17.919,"r":0.006},{"s":"Device B8 (p_in)","t":17.925,"r":0.034},{"s":"Device B8 (p_in)","t":17.932,"r":0.07},{"s":"Device B8 (p_in)","t":17.941,"r":0.098},{"s":"Device B8 (p_in)","t":17.947,"r":0.116},{"s":"Device B8 (p_in)","t":17.956,"r":0.153},{"s":"Device B8 (p_in)","t":17.963,"r":0.157},{"s":"Device B8 (p_in)","t":17.969,"r":0.143},{"s":"Device B8 (p_in)","t":17.976,"r":0.124},{"s":"Device B8 (p_in)","t":17.981,"r":0.179},{"s":"Device B8 (p_in)","t":17.987,"r":0.217},{"s":"Device B8 (p_in)","t":17.992,"r":0.249},{"s":"Device B8 (p_in)","t":17.998,"r":0.234},{"s":"Device B8 (p_in)","t":18,"r":0.225},
      {"s":"Device 94 (p_out)","t":15,"r":0.49},{"s":"Device 94 (p_out)","t":15.005,"r":0.466},{"s":"Device 94 (p_out)","t":15.011,"r":0.503},{"s":"Device 94 (p_out)","t":15.017,"r":0.498},{"s":"Device 94 (p_out)","t":15.024,"r":0.469},{"s":"Device 94 (p_out)","t":15.031,"r":0.446},{"s":"Device 94 (p_out)","t":15.038,"r":0.483},{"s":"Device 94 (p_out)","t":15.046,"r":0.449},{"s":"Device 94 (p_out)","t":15.052,"r":0.398},{"s":"Device 94 (p_out)","t":15.06,"r":0.411},{"s":"Device 94 (p_out)","t":15.068,"r":0.43},{"s":"Device 94 (p_out)","t":15.074,"r":0.433},{"s":"Device 94 (p_out)","t":15.082,"r":0.494},{"s":"Device 94 (p_out)","t":15.089,"r":0.484},{"s":"Device 94 (p_out)","t":15.096,"r":0.442},{"s":"Device 94 (p_out)","t":15.104,"r":0.431},{"s":"Device 94 (p_out)","t":15.111,"r":0.483},{"s":"Device 94 (p_out)","t":15.118,"r":0.492},{"s":"Device 94 (p_out)","t":15.125,"r":0.454},{"s":"Device 94 (p_out)","t":15.131,"r":0.463},{"s":"Device 94 (p_out)","t":15.137,"r":0.42},{"s":"Device 94 (p_out)","t":15.144,"r":0.448},{"s":"Device 94 (p_out)","t":15.15,"r":0.443},{"s":"Device 94 (p_out)","t":15.158,"r":0.377},{"s":"Device 94 (p_out)","t":15.164,"r":0.4},{"s":"Device 94 (p_out)","t":15.172,"r":0.399},{"s":"Device 94 (p_out)","t":15.18,"r":0.338},{"s":"Device 94 (p_out)","t":15.185,"r":0.328},{"s":"Device 94 (p_out)","t":15.191,"r":0.3},{"s":"Device 94 (p_out)","t":15.198,"r":0.308},{"s":"Device 94 (p_out)","t":15.207,"r":0.257},{"s":"Device 94 (p_out)","t":15.213,"r":0.271},{"s":"Device 94 (p_out)","t":15.22,"r":0.279},{"s":"Device 94 (p_out)","t":15.229,"r":0.233},{"s":"Device 94 (p_out)","t":15.238,"r":0.264},{"s":"Device 94 (p_out)","t":15.245,"r":0.254},{"s":"Device 94 (p_out)","t":15.253,"r":0.263},{"s":"Device 94 (p_out)","t":15.262,"r":0.309},{"s":"Device 94 (p_out)","t":15.27,"r":0.258},{"s":"Device 94 (p_out)","t":15.278,"r":0.261},{"s":"Device 94 (p_out)","t":15.286,"r":0.294},{"s":"Device 94 (p_out)","t":15.294,"r":0.246},{"s":"Device 94 (p_out)","t":15.303,"r":0.279},{"s":"Device 94 (p_out)","t":15.311,"r":0.306},{"s":"Device 94 (p_out)","t":15.318,"r":0.273},{"s":"Device 94 (p_out)","t":15.325,"r":0.24},{"s":"Device 94 (p_out)","t":15.333,"r":0.272},{"s":"Device 94 (p_out)","t":15.34,"r":0.262},{"s":"Device 94 (p_out)","t":15.349,"r":0.271},{"s":"Device 94 (p_out)","t":15.357,"r":0.196},{"s":"Device 94 (p_out)","t":15.365,"r":0.219},{"s":"Device 94 (p_out)","t":15.373,"r":0.255},{"s":"Device 94 (p_out)","t":15.382,"r":0.279},{"s":"Device 94 (p_out)","t":15.39,"r":0.25},{"s":"Device 94 (p_out)","t":15.398,"r":0.245},{"s":"Device 94 (p_out)","t":15.403,"r":0.216},{"s":"Device 94 (p_out)","t":15.412,"r":0.249},{"s":"Device 94 (p_out)","t":15.42,"r":0.224},{"s":"Device 94 (p_out)","t":15.427,"r":0.229},{"s":"Device 94 (p_out)","t":15.434,"r":0.257},{"s":"Device 94 (p_out)","t":15.442,"r":0.279},{"s":"Device 94 (p_out)","t":15.449,"r":0.247},{"s":"Device 94 (p_out)","t":15.458,"r":0.236},{"s":"Device 94 (p_out)","t":15.467,"r":0.263},{"s":"Device 94 (p_out)","t":15.474,"r":0.217},{"s":"Device 94 (p_out)","t":15.482,"r":0.206},{"s":"Device 94 (p_out)","t":15.491,"r":0.244},{"s":"Device 94 (p_out)","t":15.499,"r":0.215},{"s":"Device 94 (p_out)","t":15.506,"r":0.149},{"s":"Device 94 (p_out)","t":15.513,"r":0.196},{"s":"Device 94 (p_out)","t":15.521,"r":0.209},{"s":"Device 94 (p_out)","t":15.529,"r":0.228},{"s":"Device 94 (p_out)","t":15.537,"r":0.199},{"s":"Device 94 (p_out)","t":15.543,"r":0.227},{"s":"Device 94 (p_out)","t":15.551,"r":0.263},{"s":"Device 94 (p_out)","t":15.558,"r":0.216},{"s":"Device 94 (p_out)","t":15.567,"r":0.229},{"s":"Device 94 (p_out)","t":15.576,"r":0.253},{"s":"Device 94 (p_out)","t":15.583,"r":0.247},{"s":"Device 94 (p_out)","t":15.591,"r":0.256},{"s":"Device 94 (p_out)","t":15.6,"r":0.241},{"s":"Device 94 (p_out)","t":15.609,"r":0.236},{"s":"Device 94 (p_out)","t":15.617,"r":0.264},{"s":"Device 94 (p_out)","t":15.624,"r":0.272},{"s":"Device 94 (p_out)","t":15.63,"r":0.323},{"s":"Device 94 (p_out)","t":15.638,"r":0.323},{"s":"Device 94 (p_out)","t":15.646,"r":0.29},{"s":"Device 94 (p_out)","t":15.652,"r":0.327},{"s":"Device 94 (p_out)","t":15.66,"r":0.406},{"s":"Device 94 (p_out)","t":15.665,"r":0.448},{"s":"Device 94 (p_out)","t":15.671,"r":0.42},{"s":"Device 94 (p_out)","t":15.676,"r":0.381},{"s":"Device 94 (p_out)","t":15.683,"r":0.362},{"s":"Device 94 (p_out)","t":15.689,"r":0.399},{"s":"Device 94 (p_out)","t":15.696,"r":0.38},{"s":"Device 94 (p_out)","t":15.702,"r":0.404},{"s":"Device 94 (p_out)","t":15.709,"r":0.393},{"s":"Device 94 (p_out)","t":15.714,"r":0.454},{"s":"Device 94 (p_out)","t":15.72,"r":0.444},{"s":"Device 94 (p_out)","t":15.726,"r":0.411},{"s":"Device 94 (p_out)","t":15.733,"r":0.416},{"s":"Device 94 (p_out)","t":15.742,"r":0.387},{"s":"Device 94 (p_out)","t":15.747,"r":0.419},{"s":"Device 94 (p_out)","t":15.755,"r":0.423},{"s":"Device 94 (p_out)","t":15.76,"r":0.46},{"s":"Device 94 (p_out)","t":15.766,"r":0.414},{"s":"Device 94 (p_out)","t":15.774,"r":0.408},{"s":"Device 94 (p_out)","t":15.783,"r":0.379},{"s":"Device 94 (p_out)","t":15.791,"r":0.374},{"s":"Device 94 (p_out)","t":15.798,"r":0.401},{"s":"Device 94 (p_out)","t":15.805,"r":0.401},{"s":"Device 94 (p_out)","t":15.811,"r":0.364},{"s":"Device 94 (p_out)","t":15.818,"r":0.363},{"s":"Device 94 (p_out)","t":15.827,"r":0.382},{"s":"Device 94 (p_out)","t":15.834,"r":0.334},{"s":"Device 94 (p_out)","t":15.842,"r":0.357},{"s":"Device 94 (p_out)","t":15.848,"r":0.38},{"s":"Device 94 (p_out)","t":15.856,"r":0.328},{"s":"Device 94 (p_out)","t":15.864,"r":0.35},{"s":"Device 94 (p_out)","t":15.87,"r":0.369},{"s":"Device 94 (p_out)","t":15.878,"r":0.326},{"s":"Device 94 (p_out)","t":15.885,"r":0.293},{"s":"Device 94 (p_out)","t":15.892,"r":0.298},{"s":"Device 94 (p_out)","t":15.9,"r":0.288},{"s":"Device 94 (p_out)","t":15.907,"r":0.306},{"s":"Device 94 (p_out)","t":15.916,"r":0.301},{"s":"Device 94 (p_out)","t":15.925,"r":0.309},{"s":"Device 94 (p_out)","t":15.932,"r":0.3},{"s":"Device 94 (p_out)","t":15.94,"r":0.303},{"s":"Device 94 (p_out)","t":15.949,"r":0.303},{"s":"Device 94 (p_out)","t":15.957,"r":0.326},{"s":"Device 94 (p_out)","t":15.965,"r":0.312},{"s":"Device 94 (p_out)","t":15.973,"r":0.297},{"s":"Device 94 (p_out)","t":15.981,"r":0.278},{"s":"Device 94 (p_out)","t":15.99,"r":0.268},{"s":"Device 94 (p_out)","t":15.999,"r":0.263},{"s":"Device 94 (p_out)","t":16.009,"r":0.295},{"s":"Device 94 (p_out)","t":16.016,"r":0.267},{"s":"Device 94 (p_out)","t":16.025,"r":0.247},{"s":"Device 94 (p_out)","t":16.034,"r":0.205},{"s":"Device 94 (p_out)","t":16.041,"r":0.241},{"s":"Device 94 (p_out)","t":16.049,"r":0.246},{"s":"Device 94 (p_out)","t":16.058,"r":0.259},{"s":"Device 94 (p_out)","t":16.067,"r":0.263},{"s":"Device 94 (p_out)","t":16.074,"r":0.272},{"s":"Device 94 (p_out)","t":16.082,"r":0.263},{"s":"Device 94 (p_out)","t":16.09,"r":0.252},{"s":"Device 94 (p_out)","t":16.099,"r":0.242},{"s":"Device 94 (p_out)","t":16.108,"r":0.219},{"s":"Device 94 (p_out)","t":16.118,"r":0.222},{"s":"Device 94 (p_out)","t":16.125,"r":0.213},{"s":"Device 94 (p_out)","t":16.134,"r":0.198},{"s":"Device 94 (p_out)","t":16.143,"r":0.184},{"s":"Device 94 (p_out)","t":16.151,"r":0.22},{"s":"Device 94 (p_out)","t":16.158,"r":0.206},{"s":"Device 94 (p_out)","t":16.167,"r":0.247},{"s":"Device 94 (p_out)","t":16.173,"r":0.299},{"s":"Device 94 (p_out)","t":16.178,"r":0.256},{"s":"Device 94 (p_out)","t":16.186,"r":0.181},{"s":"Device 94 (p_out)","t":16.194,"r":0.227},{"s":"Device 94 (p_out)","t":16.202,"r":0.208},{"s":"Device 94 (p_out)","t":16.21,"r":0.188},{"s":"Device 94 (p_out)","t":16.219,"r":0.23},{"s":"Device 94 (p_out)","t":16.227,"r":0.187},{"s":"Device 94 (p_out)","t":16.234,"r":0.22},{"s":"Device 94 (p_out)","t":16.243,"r":0.191},{"s":"Device 94 (p_out)","t":16.252,"r":0.186},{"s":"Device 94 (p_out)","t":16.261,"r":0.213},{"s":"Device 94 (p_out)","t":16.269,"r":0.195},{"s":"Device 94 (p_out)","t":16.278,"r":0.184},{"s":"Device 94 (p_out)","t":16.287,"r":0.189},{"s":"Device 94 (p_out)","t":16.295,"r":0.174},{"s":"Device 94 (p_out)","t":16.304,"r":0.173},{"s":"Device 94 (p_out)","t":16.313,"r":0.182},{"s":"Device 94 (p_out)","t":16.322,"r":0.177},{"s":"Device 94 (p_out)","t":16.33,"r":0.167},{"s":"Device 94 (p_out)","t":16.339,"r":0.152},{"s":"Device 94 (p_out)","t":16.347,"r":0.171},{"s":"Device 94 (p_out)","t":16.354,"r":0.198},{"s":"Device 94 (p_out)","t":16.363,"r":0.17},{"s":"Device 94 (p_out)","t":16.372,"r":0.206},{"s":"Device 94 (p_out)","t":16.379,"r":0.234},{"s":"Device 94 (p_out)","t":16.387,"r":0.261},{"s":"Device 94 (p_out)","t":16.394,"r":0.215},{"s":"Device 94 (p_out)","t":16.401,"r":0.204},{"s":"Device 94 (p_out)","t":16.409,"r":0.246},{"s":"Device 94 (p_out)","t":16.415,"r":0.194},{"s":"Device 94 (p_out)","t":16.423,"r":0.129},{"s":"Device 94 (p_out)","t":16.429,"r":0.09},{"s":"Device 94 (p_out)","t":16.437,"r":0.156},{"s":"Device 94 (p_out)","t":16.445,"r":0.183},{"s":"Device 94 (p_out)","t":16.453,"r":0.164},{"s":"Device 94 (p_out)","t":16.459,"r":0.197},{"s":"Device 94 (p_out)","t":16.466,"r":0.149},{"s":"Device 94 (p_out)","t":16.472,"r":0.126},{"s":"Device 94 (p_out)","t":16.478,"r":0.101},{"s":"Device 94 (p_out)","t":16.485,"r":0.125},{"s":"Device 94 (p_out)","t":16.492,"r":0.101},{"s":"Device 94 (p_out)","t":16.499,"r":0.086},{"s":"Device 94 (p_out)","t":16.507,"r":0.128},{"s":"Device 94 (p_out)","t":16.516,"r":0.141},{"s":"Device 94 (p_out)","t":16.521,"r":0.151},{"s":"Device 94 (p_out)","t":16.527,"r":0.131},{"s":"Device 94 (p_out)","t":16.535,"r":0.122},{"s":"Device 94 (p_out)","t":16.543,"r":0.158},{"s":"Device 94 (p_out)","t":16.552,"r":0.167},{"s":"Device 94 (p_out)","t":16.56,"r":0.213},{"s":"Device 94 (p_out)","t":16.565,"r":0.19},{"s":"Device 94 (p_out)","t":16.574,"r":0.175},{"s":"Device 94 (p_out)","t":16.582,"r":0.193},{"s":"Device 94 (p_out)","t":16.589,"r":0.239},{"s":"Device 94 (p_out)","t":16.598,"r":0.258},{"s":"Device 94 (p_out)","t":16.607,"r":0.182},{"s":"Device 94 (p_out)","t":16.614,"r":0.229},{"s":"Device 94 (p_out)","t":16.622,"r":0.26},{"s":"Device 94 (p_out)","t":16.631,"r":0.265},{"s":"Device 94 (p_out)","t":16.64,"r":0.283},{"s":"Device 94 (p_out)","t":16.647,"r":0.255},{"s":"Device 94 (p_out)","t":16.655,"r":0.244},{"s":"Device 94 (p_out)","t":16.664,"r":0.282},{"s":"Device 94 (p_out)","t":16.673,"r":0.304},{"s":"Device 94 (p_out)","t":16.68,"r":0.267},{"s":"Device 94 (p_out)","t":16.688,"r":0.256},{"s":"Device 94 (p_out)","t":16.694,"r":0.284},{"s":"Device 94 (p_out)","t":16.702,"r":0.274},{"s":"Device 94 (p_out)","t":16.71,"r":0.255},{"s":"Device 94 (p_out)","t":16.719,"r":0.278},{"s":"Device 94 (p_out)","t":16.727,"r":0.259},{"s":"Device 94 (p_out)","t":16.735,"r":0.267},{"s":"Device 94 (p_out)","t":16.743,"r":0.249},{"s":"Device 94 (p_out)","t":16.749,"r":0.304},{"s":"Device 94 (p_out)","t":16.757,"r":0.313},{"s":"Device 94 (p_out)","t":16.762,"r":0.27},{"s":"Device 94 (p_out)","t":16.771,"r":0.275},{"s":"Device 94 (p_out)","t":16.779,"r":0.321},{"s":"Device 94 (p_out)","t":16.784,"r":0.353},{"s":"Device 94 (p_out)","t":16.791,"r":0.321},{"s":"Device 94 (p_out)","t":16.797,"r":0.301},{"s":"Device 94 (p_out)","t":16.804,"r":0.291},{"s":"Device 94 (p_out)","t":16.811,"r":0.258},{"s":"Device 94 (p_out)","t":16.817,"r":0.309},{"s":"Device 94 (p_out)","t":16.824,"r":0.342},{"s":"Device 94 (p_out)","t":16.83,"r":0.327},{"s":"Device 94 (p_out)","t":16.837,"r":0.332},{"s":"Device 94 (p_out)","t":16.844,"r":0.298},{"s":"Device 94 (p_out)","t":16.852,"r":0.279},{"s":"Device 94 (p_out)","t":16.861,"r":0.306},{"s":"Device 94 (p_out)","t":16.869,"r":0.273},{"s":"Device 94 (p_out)","t":16.875,"r":0.319},{"s":"Device 94 (p_out)","t":16.883,"r":0.258},{"s":"Device 94 (p_out)","t":16.889,"r":0.243},{"s":"Device 94 (p_out)","t":16.896,"r":0.248},{"s":"Device 94 (p_out)","t":16.903,"r":0.234},{"s":"Device 94 (p_out)","t":16.909,"r":0.205},{"s":"Device 94 (p_out)","t":16.916,"r":0.233},{"s":"Device 94 (p_out)","t":16.924,"r":0.176},{"s":"Device 94 (p_out)","t":16.932,"r":0.171},{"s":"Device 94 (p_out)","t":16.94,"r":0.189},{"s":"Device 94 (p_out)","t":16.946,"r":0.18},{"s":"Device 94 (p_out)","t":16.954,"r":0.193},{"s":"Device 94 (p_out)","t":16.962,"r":0.151},{"s":"Device 94 (p_out)","t":16.968,"r":0.126},{"s":"Device 94 (p_out)","t":16.975,"r":0.164},{"s":"Device 94 (p_out)","t":16.981,"r":0.178},{"s":"Device 94 (p_out)","t":16.989,"r":0.2},{"s":"Device 94 (p_out)","t":16.996,"r":0.214},{"s":"Device 94 (p_out)","t":17.001,"r":0.138},{"s":"Device 94 (p_out)","t":17.009,"r":0.166},{"s":"Device 94 (p_out)","t":17.016,"r":0.151},{"s":"Device 94 (p_out)","t":17.023,"r":0.193},{"s":"Device 94 (p_out)","t":17.03,"r":0.136},{"s":"Device 94 (p_out)","t":17.036,"r":0.15},{"s":"Device 94 (p_out)","t":17.045,"r":0.132},{"s":"Device 94 (p_out)","t":17.051,"r":0.112},{"s":"Device 94 (p_out)","t":17.058,"r":0.173},{"s":"Device 94 (p_out)","t":17.065,"r":0.209},{"s":"Device 94 (p_out)","t":17.071,"r":0.172},{"s":"Device 94 (p_out)","t":17.078,"r":0.222},{"s":"Device 94 (p_out)","t":17.085,"r":0.147},{"s":"Device 94 (p_out)","t":17.091,"r":0.213},{"s":"Device 94 (p_out)","t":17.1,"r":0.17},{"s":"Device 94 (p_out)","t":17.107,"r":0.202},{"s":"Device 94 (p_out)","t":17.113,"r":0.141},{"s":"Device 94 (p_out)","t":17.119,"r":0.187},{"s":"Device 94 (p_out)","t":17.126,"r":0.158},{"s":"Device 94 (p_out)","t":17.133,"r":0.112},{"s":"Device 94 (p_out)","t":17.14,"r":0.112},{"s":"Device 94 (p_out)","t":17.148,"r":0.087},{"s":"Device 94 (p_out)","t":17.154,"r":0.078},{"s":"Device 94 (p_out)","t":17.162,"r":0.1},{"s":"Device 94 (p_out)","t":17.17,"r":0.091},{"s":"Device 94 (p_out)","t":17.176,"r":0.095},{"s":"Device 94 (p_out)","t":17.184,"r":0.104},{"s":"Device 94 (p_out)","t":17.192,"r":0.08},{"s":"Device 94 (p_out)","t":17.198,"r":0.126},{"s":"Device 94 (p_out)","t":17.206,"r":0.088},{"s":"Device 94 (p_out)","t":17.211,"r":0.135},{"s":"Device 94 (p_out)","t":17.22,"r":0.106},{"s":"Device 94 (p_out)","t":17.228,"r":0.092},{"s":"Device 94 (p_out)","t":17.235,"r":0.115},{"s":"Device 94 (p_out)","t":17.242,"r":0.123},{"s":"Device 94 (p_out)","t":17.25,"r":0.095},{"s":"Device 94 (p_out)","t":17.257,"r":0.085},{"s":"Device 94 (p_out)","t":17.266,"r":0.057},{"s":"Device 94 (p_out)","t":17.273,"r":0.093},{"s":"Device 94 (p_out)","t":17.279,"r":0.079},{"s":"Device 94 (p_out)","t":17.286,"r":0.111},{"s":"Device 94 (p_out)","t":17.295,"r":0.116},{"s":"Device 94 (p_out)","t":17.301,"r":0.035},{"s":"Device 94 (p_out)","t":17.308,"r":0.045},{"s":"Device 94 (p_out)","t":17.315,"r":0.058},{"s":"Device 94 (p_out)","t":17.323,"r":0.044},{"s":"Device 94 (p_out)","t":17.332,"r":0.08},{"s":"Device 94 (p_out)","t":17.338,"r":0.061},{"s":"Device 94 (p_out)","t":17.345,"r":0.052},{"s":"Device 94 (p_out)","t":17.352,"r":0.06},{"s":"Device 94 (p_out)","t":17.359,"r":0.056},{"s":"Device 94 (p_out)","t":17.367,"r":0.087},{"s":"Device 94 (p_out)","t":17.373,"r":0.101},{"s":"Device 94 (p_out)","t":17.381,"r":0.063},{"s":"Device 94 (p_out)","t":17.389,"r":0.026},{"s":"Device 94 (p_out)","t":17.395,"r":0.085},{"s":"Device 94 (p_out)","t":17.403,"r":0.085},{"s":"Device 94 (p_out)","t":17.411,"r":0.075},{"s":"Device 94 (p_out)","t":17.417,"r":0.084},{"s":"Device 94 (p_out)","t":17.425,"r":0.041},{"s":"Device 94 (p_out)","t":17.433,"r":0.055},{"s":"Device 94 (p_out)","t":17.441,"r":0.054},{"s":"Device 94 (p_out)","t":17.448,"r":0.031},{"s":"Device 94 (p_out)","t":17.457,"r":0.025},{"s":"Device 94 (p_out)","t":17.463,"r":0.044},{"s":"Device 94 (p_out)","t":17.47,"r":0.025},{"s":"Device 94 (p_out)","t":17.478,"r":0.015},{"s":"Device 94 (p_out)","t":17.485,"r":0.066},{"s":"Device 94 (p_out)","t":17.492,"r":0.023},{"s":"Device 94 (p_out)","t":17.498,"r":-0.005},{"s":"Device 94 (p_out)","t":17.505,"r":0.032},{"s":"Device 94 (p_out)","t":17.511,"r":0.032},{"s":"Device 94 (p_out)","t":17.52,"r":0.059},{"s":"Device 94 (p_out)","t":17.527,"r":0.035},{"s":"Device 94 (p_out)","t":17.534,"r":0.058},{"s":"Device 94 (p_out)","t":17.54,"r":0.067},{"s":"Device 94 (p_out)","t":17.547,"r":0.076},{"s":"Device 94 (p_out)","t":17.553,"r":0.019},{"s":"Device 94 (p_out)","t":17.56,"r":0.019},{"s":"Device 94 (p_out)","t":17.566,"r":0.075},{"s":"Device 94 (p_out)","t":17.573,"r":0.079},{"s":"Device 94 (p_out)","t":17.579,"r":0.056},{"s":"Device 94 (p_out)","t":17.586,"r":0.073},{"s":"Device 94 (p_out)","t":17.593,"r":0.092},{"s":"Device 94 (p_out)","t":17.6,"r":0.11},{"s":"Device 94 (p_out)","t":17.608,"r":0.063},{"s":"Device 94 (p_out)","t":17.614,"r":0.054},{"s":"Device 94 (p_out)","t":17.622,"r":0.043},{"s":"Device 94 (p_out)","t":17.63,"r":0.071},{"s":"Device 94 (p_out)","t":17.639,"r":0.108},{"s":"Device 94 (p_out)","t":17.645,"r":0.07},{"s":"Device 94 (p_out)","t":17.652,"r":0.065},{"s":"Device 94 (p_out)","t":17.66,"r":0.107},{"s":"Device 94 (p_out)","t":17.667,"r":0.134},{"s":"Device 94 (p_out)","t":17.674,"r":0.162},{"s":"Device 94 (p_out)","t":17.68,"r":0.114},{"s":"Device 94 (p_out)","t":17.688,"r":0.095},{"s":"Device 94 (p_out)","t":17.696,"r":0.132},{"s":"Device 94 (p_out)","t":17.702,"r":0.178},{"s":"Device 94 (p_out)","t":17.71,"r":0.215},{"s":"Device 94 (p_out)","t":17.717,"r":0.196},{"s":"Device 94 (p_out)","t":17.724,"r":0.131},{"s":"Device 94 (p_out)","t":17.732,"r":0.158},{"s":"Device 94 (p_out)","t":17.739,"r":0.223},{"s":"Device 94 (p_out)","t":17.746,"r":0.166},{"s":"Device 94 (p_out)","t":17.754,"r":0.185},{"s":"Device 94 (p_out)","t":17.759,"r":0.212},{"s":"Device 94 (p_out)","t":17.766,"r":0.156},{"s":"Device 94 (p_out)","t":17.772,"r":0.193},{"s":"Device 94 (p_out)","t":17.779,"r":0.173},{"s":"Device 94 (p_out)","t":17.785,"r":0.225},{"s":"Device 94 (p_out)","t":17.792,"r":0.228},{"s":"Device 94 (p_out)","t":17.798,"r":0.21},{"s":"Device 94 (p_out)","t":17.805,"r":0.181},{"s":"Device 94 (p_out)","t":17.812,"r":0.171},{"s":"Device 94 (p_out)","t":17.818,"r":0.153},{"s":"Device 94 (p_out)","t":17.825,"r":0.198},{"s":"Device 94 (p_out)","t":17.831,"r":0.208},{"s":"Device 94 (p_out)","t":17.838,"r":0.258},{"s":"Device 94 (p_out)","t":17.844,"r":0.263},{"s":"Device 94 (p_out)","t":17.851,"r":0.235},{"s":"Device 94 (p_out)","t":17.858,"r":0.187},{"s":"Device 94 (p_out)","t":17.864,"r":0.159},{"s":"Device 94 (p_out)","t":17.871,"r":0.177},{"s":"Device 94 (p_out)","t":17.877,"r":0.186},{"s":"Device 94 (p_out)","t":17.884,"r":0.138},{"s":"Device 94 (p_out)","t":17.89,"r":0.101},{"s":"Device 94 (p_out)","t":17.897,"r":0.129},{"s":"Device 94 (p_out)","t":17.904,"r":0.147},{"s":"Device 94 (p_out)","t":17.91,"r":0.1},{"s":"Device 94 (p_out)","t":17.917,"r":0.08},{"s":"Device 94 (p_out)","t":17.923,"r":0.09},{"s":"Device 94 (p_out)","t":17.93,"r":0.062},{"s":"Device 94 (p_out)","t":17.936,"r":0.089},{"s":"Device 94 (p_out)","t":17.943,"r":0.051},{"s":"Device 94 (p_out)","t":17.95,"r":0.06},{"s":"Device 94 (p_out)","t":17.956,"r":0.032},{"s":"Device 94 (p_out)","t":17.963,"r":0.049},{"s":"Device 94 (p_out)","t":17.969,"r":0.035},{"s":"Device 94 (p_out)","t":17.976,"r":0.073},{"s":"Device 94 (p_out)","t":17.982,"r":0.076},{"s":"Device 94 (p_out)","t":17.987,"r":0.011},{"s":"Device 94 (p_out)","t":17.991,"r":0.002},{"s":"Device 94 (p_out)","t":17.996,"r":-0.093},{"s":"Device 94 (p_out)","t":17.998,"r":-0.121}
    ],
    "solar": [
      {"s":"Solar Radiation","t":15,"w":0},{"s":"Solar Radiation","t":15.1,"w":0},{"s":"Solar Radiation","t":15.2,"w":0},{"s":"Solar Radiation","t":15.3,"w":0},{"s":"Solar Radiation","t":15.4,"w":0},{"s":"Solar Radiation","t":15.5,"w":0},{"s":"Solar Radiation","t":15.521,"w":0},{"s":"Solar Radiation","t":15.533,"w":2.2},{"s":"Solar Radiation","t":15.546,"w":6.8},{"s":"Solar Radiation","t":15.559,"w":12},{"s":"Solar Radiation","t":15.571,"w":17},{"s":"Solar Radiation","t":15.584,"w":20.6},{"s":"Solar Radiation","t":15.596,"w":25},{"s":"Solar Radiation","t":15.603,"w":29},{"s":"Solar Radiation","t":15.609,"w":34},{"s":"Solar Radiation","t":15.615,"w":42},{"s":"Solar Radiation","t":15.622,"w":58},{"s":"Solar Radiation","t":15.625,"w":74},{"s":"Solar Radiation","t":15.631,"w":92},{"s":"Solar Radiation","t":15.636,"w":82},{"s":"Solar Radiation","t":15.641,"w":58},{"s":"Solar Radiation","t":15.646,"w":74},{"s":"Solar Radiation","t":15.651,"w":62},{"s":"Solar Radiation","t":15.656,"w":82},{"s":"Solar Radiation","t":15.661,"w":105},{"s":"Solar Radiation","t":15.665,"w":147},{"s":"Solar Radiation","t":15.668,"w":105},{"s":"Solar Radiation","t":15.673,"w":68.5},{"s":"Solar Radiation","t":15.678,"w":28},{"s":"Solar Radiation","t":15.683,"w":49},{"s":"Solar Radiation","t":15.689,"w":36},{"s":"Solar Radiation","t":15.694,"w":53},{"s":"Solar Radiation","t":15.699,"w":42},{"s":"Solar Radiation","t":15.704,"w":55},{"s":"Solar Radiation","t":15.71,"w":71},{"s":"Solar Radiation","t":15.716,"w":50},{"s":"Solar Radiation","t":15.723,"w":36},{"s":"Solar Radiation","t":15.729,"w":45},{"s":"Solar Radiation","t":15.735,"w":33},{"s":"Solar Radiation","t":15.741,"w":49},{"s":"Solar Radiation","t":15.748,"w":55},{"s":"Solar Radiation","t":15.754,"w":70},{"s":"Solar Radiation","t":15.76,"w":49},{"s":"Solar Radiation","t":15.767,"w":34},{"s":"Solar Radiation","t":15.773,"w":29},{"s":"Solar Radiation","t":15.779,"w":22.6},{"s":"Solar Radiation","t":15.786,"w":34},{"s":"Solar Radiation","t":15.792,"w":42},{"s":"Solar Radiation","t":15.798,"w":32},{"s":"Solar Radiation","t":15.805,"w":22.6},{"s":"Solar Radiation","t":15.817,"w":17},{"s":"Solar Radiation","t":15.83,"w":25},{"s":"Solar Radiation","t":15.843,"w":29},{"s":"Solar Radiation","t":15.855,"w":29},{"s":"Solar Radiation","t":15.868,"w":19},{"s":"Solar Radiation","t":15.88,"w":11},{"s":"Solar Radiation","t":15.893,"w":4.2},{"s":"Solar Radiation","t":15.905,"w":0.9},{"s":"Solar Radiation","t":15.918,"w":0},{"s":"Solar Radiation","t":16,"w":0},{"s":"Solar Radiation","t":16.1,"w":0},{"s":"Solar Radiation","t":16.2,"w":0},{"s":"Solar Radiation","t":16.3,"w":0},{"s":"Solar Radiation","t":16.4,"w":0},{"s":"Solar Radiation","t":16.505,"w":0},{"s":"Solar Radiation","t":16.524,"w":2.2},{"s":"Solar Radiation","t":16.537,"w":6.8},{"s":"Solar Radiation","t":16.549,"w":9.5},{"s":"Solar Radiation","t":16.562,"w":16},{"s":"Solar Radiation","t":16.571,"w":24},{"s":"Solar Radiation","t":16.578,"w":32},{"s":"Solar Radiation","t":16.586,"w":40},{"s":"Solar Radiation","t":16.593,"w":50},{"s":"Solar Radiation","t":16.601,"w":36},{"s":"Solar Radiation","t":16.609,"w":44},{"s":"Solar Radiation","t":16.616,"w":29},{"s":"Solar Radiation","t":16.624,"w":49},{"s":"Solar Radiation","t":16.631,"w":62},{"s":"Solar Radiation","t":16.639,"w":59},{"s":"Solar Radiation","t":16.646,"w":54},{"s":"Solar Radiation","t":16.654,"w":51.5},{"s":"Solar Radiation","t":16.662,"w":42},{"s":"Solar Radiation","t":16.669,"w":34},{"s":"Solar Radiation","t":16.677,"w":49},{"s":"Solar Radiation","t":16.684,"w":37},{"s":"Solar Radiation","t":16.692,"w":47.5},{"s":"Solar Radiation","t":16.699,"w":34},{"s":"Solar Radiation","t":16.707,"w":38},{"s":"Solar Radiation","t":16.715,"w":45},{"s":"Solar Radiation","t":16.722,"w":40},{"s":"Solar Radiation","t":16.73,"w":47.5},{"s":"Solar Radiation","t":16.737,"w":46},{"s":"Solar Radiation","t":16.745,"w":58},{"s":"Solar Radiation","t":16.753,"w":55},{"s":"Solar Radiation","t":16.76,"w":45},{"s":"Solar Radiation","t":16.768,"w":58},{"s":"Solar Radiation","t":16.775,"w":59},{"s":"Solar Radiation","t":16.783,"w":55},{"s":"Solar Radiation","t":16.79,"w":49},{"s":"Solar Radiation","t":16.798,"w":64.6},{"s":"Solar Radiation","t":16.806,"w":71},{"s":"Solar Radiation","t":16.813,"w":64.6},{"s":"Solar Radiation","t":16.821,"w":63},{"s":"Solar Radiation","t":16.828,"w":60.7},{"s":"Solar Radiation","t":16.836,"w":71},{"s":"Solar Radiation","t":16.843,"w":55},{"s":"Solar Radiation","t":16.851,"w":34},{"s":"Solar Radiation","t":16.859,"w":24},{"s":"Solar Radiation","t":16.866,"w":16},{"s":"Solar Radiation","t":16.874,"w":13.4},{"s":"Solar Radiation","t":16.881,"w":9.5},{"s":"Solar Radiation","t":16.889,"w":5.5},{"s":"Solar Radiation","t":16.896,"w":1.6},{"s":"Solar Radiation","t":16.909,"w":0.3},{"s":"Solar Radiation","t":16.922,"w":0},{"s":"Solar Radiation","t":17,"w":0},{"s":"Solar Radiation","t":17.1,"w":0},{"s":"Solar Radiation","t":17.2,"w":0},{"s":"Solar Radiation","t":17.3,"w":0},{"s":"Solar Radiation","t":17.4,"w":0},{"s":"Solar Radiation","t":17.49,"w":0},{"s":"Solar Radiation","t":17.503,"w":1.6},{"s":"Solar Radiation","t":17.515,"w":2.9},{"s":"Solar Radiation","t":17.528,"w":5.5},{"s":"Solar Radiation","t":17.54,"w":9.5},{"s":"Solar Radiation","t":17.553,"w":16},{"s":"Solar Radiation","t":17.561,"w":22.6},{"s":"Solar Radiation","t":17.568,"w":25},{"s":"Solar Radiation","t":17.576,"w":28},{"s":"Solar Radiation","t":17.583,"w":30.5},{"s":"Solar Radiation","t":17.591,"w":34},{"s":"Solar Radiation","t":17.598,"w":36},{"s":"Solar Radiation","t":17.604,"w":55},{"s":"Solar Radiation","t":17.609,"w":29},{"s":"Solar Radiation","t":17.616,"w":42},{"s":"Solar Radiation","t":17.624,"w":47.5},{"s":"Solar Radiation","t":17.631,"w":36},{"s":"Solar Radiation","t":17.639,"w":53},{"s":"Solar Radiation","t":17.646,"w":55},{"s":"Solar Radiation","t":17.654,"w":47.5},{"s":"Solar Radiation","t":17.662,"w":41},{"s":"Solar Radiation","t":17.667,"w":26.5},{"s":"Solar Radiation","t":17.673,"w":49},{"s":"Solar Radiation","t":17.679,"w":55},{"s":"Solar Radiation","t":17.686,"w":68.5},{"s":"Solar Radiation","t":17.692,"w":55},{"s":"Solar Radiation","t":17.698,"w":71},{"s":"Solar Radiation","t":17.705,"w":89.6},{"s":"Solar Radiation","t":17.71,"w":94.8},{"s":"Solar Radiation","t":17.713,"w":141},{"s":"Solar Radiation","t":17.717,"w":97},{"s":"Solar Radiation","t":17.722,"w":82},{"s":"Solar Radiation","t":17.727,"w":66},{"s":"Solar Radiation","t":17.732,"w":82},{"s":"Solar Radiation","t":17.737,"w":97},{"s":"Solar Radiation","t":17.742,"w":81},{"s":"Solar Radiation","t":17.749,"w":92},{"s":"Solar Radiation","t":17.755,"w":84},{"s":"Solar Radiation","t":17.761,"w":92},{"s":"Solar Radiation","t":17.768,"w":87},{"s":"Solar Radiation","t":17.774,"w":82},{"s":"Solar Radiation","t":17.78,"w":92},{"s":"Solar Radiation","t":17.787,"w":81},{"s":"Solar Radiation","t":17.793,"w":66},{"s":"Solar Radiation","t":17.799,"w":82},{"s":"Solar Radiation","t":17.806,"w":97},{"s":"Solar Radiation","t":17.812,"w":81},{"s":"Solar Radiation","t":17.818,"w":68.5},{"s":"Solar Radiation","t":17.824,"w":59},{"s":"Solar Radiation","t":17.831,"w":84},{"s":"Solar Radiation","t":17.837,"w":105},{"s":"Solar Radiation","t":17.843,"w":82},{"s":"Solar Radiation","t":17.849,"w":66},{"s":"Solar Radiation","t":17.856,"w":82},{"s":"Solar Radiation","t":17.862,"w":55},{"s":"Solar Radiation","t":17.869,"w":42},{"s":"Solar Radiation","t":17.875,"w":34},{"s":"Solar Radiation","t":17.881,"w":22.6},{"s":"Solar Radiation","t":17.888,"w":12},{"s":"Solar Radiation","t":17.894,"w":4.2},{"s":"Solar Radiation","t":17.9,"w":1.6},{"s":"Solar Radiation","t":17.913,"w":0.3},{"s":"Solar Radiation","t":17.925,"w":0},{"s":"Solar Radiation","t":18,"w":0}
    ],
    "violin": [
      {"s":"Device B8 (p_in)","y":-0.786,"lo":0.99,"hi":1.01},{"s":"Device B8 (p_in)","y":-0.78,"lo":0.983,"hi":1.017},{"s":"Device B8 (p_in)","y":-0.742,"lo":0.948,"hi":1.052},{"s":"Device B8 (p_in)","y":-0.698,"lo":0.914,"hi":1.086},{"s":"Device B8 (p_in)","y":-0.654,"lo":0.891,"hi":1.109},{"s":"Device B8 (p_in)","y":-0.599,"lo":0.876,"hi":1.124},{"s":"Device B8 (p_in)","y":-0.544,"lo":0.871,"hi":1.129},{"s":"Device B8 (p_in)","y":-0.467,"lo":0.859,"hi":1.141},{"s":"Device B8 (p_in)","y":-0.412,"lo":0.836,"hi":1.164},{"s":"Device B8 (p_in)","y":-0.346,"lo":0.819,"hi":1.181},{"s":"Device B8 (p_in)","y":-0.291,"lo":0.802,"hi":1.198},{"s":"Device B8 (p_in)","y":-0.236,"lo":0.776,"hi":1.224},{"s":"Device B8 (p_in)","y":-0.187,"lo":0.759,"hi":1.241},{"s":"Device B8 (p_in)","y":-0.159,"lo":0.762,"hi":1.238},{"s":"Device B8 (p_in)","y":-0.104,"lo":0.781,"hi":1.219},{"s":"Device B8 (p_in)","y":-0.05,"lo":0.793,"hi":1.207},{"s":"Device B8 (p_in)","y":-0.005,"lo":0.776,"hi":1.224},{"s":"Device B8 (p_in)","y":0.03,"lo":0.76,"hi":1.24},{"s":"Device B8 (p_in)","y":0.06,"lo":0.753,"hi":1.247},{"s":"Device B8 (p_in)","y":0.094,"lo":0.75,"hi":1.25},{"s":"Device B8 (p_in)","y":0.13,"lo":0.767,"hi":1.233},{"s":"Device B8 (p_in)","y":0.18,"lo":0.81,"hi":1.19},{"s":"Device B8 (p_in)","y":0.236,"lo":0.88,"hi":1.12},{"s":"Device B8 (p_in)","y":0.271,"lo":0.94,"hi":1.06},
      {"s":"Device 94 (p_out)","y":-0.117,"lo":1.998,"hi":2.002},{"s":"Device 94 (p_out)","y":-0.05,"lo":1.993,"hi":2.007},{"s":"Device 94 (p_out)","y":-0.016,"lo":1.98,"hi":2.02},{"s":"Device 94 (p_out)","y":0.016,"lo":1.955,"hi":2.045},{"s":"Device 94 (p_out)","y":0.04,"lo":1.91,"hi":2.09},{"s":"Device 94 (p_out)","y":0.06,"lo":1.885,"hi":2.115},{"s":"Device 94 (p_out)","y":0.093,"lo":1.85,"hi":2.15},{"s":"Device 94 (p_out)","y":0.12,"lo":1.857,"hi":2.143},{"s":"Device 94 (p_out)","y":0.148,"lo":1.85,"hi":2.15},{"s":"Device 94 (p_out)","y":0.17,"lo":1.825,"hi":2.175},{"s":"Device 94 (p_out)","y":0.19,"lo":1.79,"hi":2.21},{"s":"Device 94 (p_out)","y":0.21,"lo":1.76,"hi":2.24},{"s":"Device 94 (p_out)","y":0.24,"lo":1.75,"hi":2.25},{"s":"Device 94 (p_out)","y":0.27,"lo":1.775,"hi":2.225},{"s":"Device 94 (p_out)","y":0.3,"lo":1.825,"hi":2.175},{"s":"Device 94 (p_out)","y":0.33,"lo":1.89,"hi":2.11},{"s":"Device 94 (p_out)","y":0.36,"lo":1.93,"hi":2.07},{"s":"Device 94 (p_out)","y":0.401,"lo":1.931,"hi":2.069},{"s":"Device 94 (p_out)","y":0.456,"lo":1.952,"hi":2.048},{"s":"Device 94 (p_out)","y":0.504,"lo":1.97,"hi":2.03}
    ],
    "vstat": [
      {"pos":1,"lo":-0.786,"hi":0.271},{"pos":2,"lo":-0.117,"hi":0.504}
    ],
    "vcap": [
      {"pos":1,"val":-0.786},{"pos":1,"val":-0.187},{"pos":1,"val":0.271},{"pos":2,"val":-0.117},{"pos":2,"val":0.227},{"pos":2,"val":0.504}
    ],
    "cdf": [
      {"s":"Device B8 (p_in)","x":0.004,"y":0.018},{"s":"Device B8 (p_in)","x":0.0425,"y":0.11},{"s":"Device B8 (p_in)","x":0.068,"y":0.163},{"s":"Device B8 (p_in)","x":0.089,"y":0.216},{"s":"Device B8 (p_in)","x":0.106,"y":0.278},{"s":"Device B8 (p_in)","x":0.128,"y":0.339},{"s":"Device B8 (p_in)","x":0.153,"y":0.383},{"s":"Device B8 (p_in)","x":0.174,"y":0.427},{"s":"Device B8 (p_in)","x":0.196,"y":0.489},{"s":"Device B8 (p_in)","x":0.217,"y":0.542},{"s":"Device B8 (p_in)","x":0.247,"y":0.59},{"s":"Device B8 (p_in)","x":0.272,"y":0.617},{"s":"Device B8 (p_in)","x":0.298,"y":0.639},{"s":"Device B8 (p_in)","x":0.323,"y":0.67},{"s":"Device B8 (p_in)","x":0.349,"y":0.7},{"s":"Device B8 (p_in)","x":0.374,"y":0.731},{"s":"Device B8 (p_in)","x":0.4,"y":0.753},{"s":"Device B8 (p_in)","x":0.434,"y":0.78},{"s":"Device B8 (p_in)","x":0.46,"y":0.797},{"s":"Device B8 (p_in)","x":0.477,"y":0.802},{"s":"Device B8 (p_in)","x":0.502,"y":0.833},{"s":"Device B8 (p_in)","x":0.536,"y":0.846},{"s":"Device B8 (p_in)","x":0.562,"y":0.872},{"s":"Device B8 (p_in)","x":0.604,"y":0.899},{"s":"Device B8 (p_in)","x":0.638,"y":0.93},{"s":"Device B8 (p_in)","x":0.672,"y":0.943},{"s":"Device B8 (p_in)","x":0.715,"y":0.974},{"s":"Device B8 (p_in)","x":0.757,"y":0.996},{"s":"Device B8 (p_in)","x":0.791,"y":1},
      {"s":"Device 94 (p_out)","x":0.0085,"y":0},{"s":"Device 94 (p_out)","x":0.026,"y":0.013},{"s":"Device 94 (p_out)","x":0.051,"y":0.066},{"s":"Device 94 (p_out)","x":0.077,"y":0.128},{"s":"Device 94 (p_out)","x":0.098,"y":0.181},{"s":"Device 94 (p_out)","x":0.119,"y":0.225},{"s":"Device 94 (p_out)","x":0.145,"y":0.264},{"s":"Device 94 (p_out)","x":0.17,"y":0.313},{"s":"Device 94 (p_out)","x":0.187,"y":0.352},{"s":"Device 94 (p_out)","x":0.204,"y":0.41},{"s":"Device 94 (p_out)","x":0.221,"y":0.471},{"s":"Device 94 (p_out)","x":0.238,"y":0.533},{"s":"Device 94 (p_out)","x":0.255,"y":0.604},{"s":"Device 94 (p_out)","x":0.272,"y":0.674},{"s":"Device 94 (p_out)","x":0.285,"y":0.731},{"s":"Device 94 (p_out)","x":0.306,"y":0.78},{"s":"Device 94 (p_out)","x":0.323,"y":0.828},{"s":"Device 94 (p_out)","x":0.345,"y":0.863},{"s":"Device 94 (p_out)","x":0.366,"y":0.877},{"s":"Device 94 (p_out)","x":0.383,"y":0.894},{"s":"Device 94 (p_out)","x":0.409,"y":0.912},{"s":"Device 94 (p_out)","x":0.421,"y":0.937},{"s":"Device 94 (p_out)","x":0.443,"y":0.956},{"s":"Device 94 (p_out)","x":0.468,"y":0.974},{"s":"Device 94 (p_out)","x":0.494,"y":0.991},{"s":"Device 94 (p_out)","x":0.509,"y":1}
    ]
  },
  "concat": [
    {
      "title": "Predicted and Measured Turbidity",
      "width": 2415,
      "height": 987,
      "data": {"name": "turb"},
      "mark": {"type": "line", "strokeCap": "butt", "strokeJoin": "round"},
      "encoding": {
        "x": {
          "field": "t", "type": "quantitative",
          "scale": {"domain": [14.85, 18.15], "nice": false, "zero": false},
          "axis": {
            "title": null, "labels": false, "grid": true, "labelOverlap": false,
            "values": [14.875,14.9167,14.9583,15,15.0417,15.0833,15.125,15.1667,15.2083,15.25,15.2917,15.3333,15.375,15.4167,15.4583,15.5,15.5417,15.5833,15.625,15.6667,15.7083,15.75,15.7917,15.8333,15.875,15.9167,15.9583,16,16.0417,16.0833,16.125,16.1667,16.2083,16.25,16.2917,16.3333,16.375,16.4167,16.4583,16.5,16.5417,16.5833,16.625,16.6667,16.7083,16.75,16.7917,16.8333,16.875,16.9167,16.9583,17,17.0417,17.0833,17.125,17.1667,17.2083,17.25,17.2917,17.3333,17.375,17.4167,17.4583,17.5,17.5417,17.5833,17.625,17.6667,17.7083,17.75,17.7917,17.8333,17.875,17.9167,17.9583,18,18.0417,18.0833,18.125],
            "tickSize": {"condition": {"test": "abs(datum.value - round(datum.value)) < 0.001", "value": 14.6}, "value": 8.3},
            "tickWidth": {"condition": {"test": "abs(datum.value - round(datum.value)) < 0.001", "value": 3.3}, "value": 2.5},
            "gridOpacity": {"condition": {"test": "abs(datum.value - round(datum.value)) < 0.001", "value": 1}, "value": 0}
          }
        },
        "y": {
          "field": "v", "type": "quantitative",
          "scale": {"domain": [-0.055, 1.332], "nice": false, "zero": false},
          "axis": {"title": "NTU", "values": [0, 0.2, 0.4, 0.6, 0.8, 1, 1.2], "format": ".1f", "grid": true, "labelOverlap": false}
        },
        "color": {
          "field": "s", "type": "nominal",
          "scale": {"domain": ["manual sample", "Device B8 (p_in)", "Device 94 (p_out)"], "range": ["#000000", "#2ca02c", "#d62728"]},
          "legend": {"title": null, "orient": "bottom-right", "offset": 21}
        },
        "strokeDash": {
          "field": "s", "type": "nominal",
          "scale": {"domain": ["manual sample", "Device B8 (p_in)", "Device 94 (p_out)"], "range": [[46, 20], [1, 0], [1, 0]]}
        },
        "strokeWidth": {
          "field": "s", "type": "nominal",
          "scale": {"type": "ordinal", "domain": ["manual sample", "Device B8 (p_in)", "Device 94 (p_out)"], "range": [12.5, 6.7, 6.7]}
        },
        "opacity": {
          "field": "s", "type": "nominal",
          "scale": {"type": "ordinal", "domain": ["manual sample", "Device B8 (p_in)", "Device 94 (p_out)"], "range": [0.63, 0.6, 0.6]}
        }
      }
    },
    {
      "title": {"text": "Residual", "offset": -2},
      "width": 588,
      "height": 987,
      "layer": [
        {
          "data": {"name": "violin"},
          "mark": {"type": "area", "orient": "horizontal", "color": "#1f77b4", "opacity": 0.3},
          "encoding": {
            "y": {
              "field": "y", "type": "quantitative", "title": "NTU",
              "scale": {"domain": [-0.849, 0.566], "nice": false, "zero": false},
              "axis": {
                "title": "NTU", "grid": false, "labelOverlap": false,
                "values": [-0.84,-0.82,-0.8,-0.78,-0.76,-0.74,-0.72,-0.7,-0.68,-0.66,-0.64,-0.62,-0.6,-0.58,-0.56,-0.54,-0.52,-0.5,-0.48,-0.46,-0.44,-0.42,-0.4,-0.38,-0.36,-0.34,-0.32,-0.3,-0.28,-0.26,-0.24,-0.22,-0.2,-0.18,-0.16,-0.14,-0.12,-0.1,-0.08,-0.06,-0.04,-0.02,0,0.02,0.04,0.06,0.08,0.1,0.12,0.14,0.16,0.18,0.2,0.22,0.24,0.26,0.28,0.3,0.32,0.34,0.36,0.38,0.4,0.42,0.44,0.46,0.48,0.5,0.52,0.54,0.56],
                "labelExpr": "abs(datum.value*10 - round(datum.value*10)) < 0.01 ? format(datum.value, '.1f') : ''",
                "tickSize": {"condition": {"test": "abs(datum.value*10 - round(datum.value*10)) < 0.01", "value": 14.6}, "value": 8.3},
                "tickWidth": {"condition": {"test": "abs(datum.value*10 - round(datum.value*10)) < 0.01", "value": 3.3}, "value": 2.5}
              }
            },
            "x": {
              "field": "lo", "type": "quantitative", "title": null,
              "scale": {"domain": [0.675, 2.325], "nice": false, "zero": false},
              "axis": {"title": null, "grid": false, "labelOverlap": false, "labelLimit": 0, "values": [1, 2], "labelExpr": "datum.value == 1 ? 'Device B8 (p_in)' : 'Device 94 (p_out)'"}
            },
            "x2": {"field": "hi"},
            "detail": {"field": "s"}
          }
        },
        {
          "data": {"name": "vstat"},
          "mark": {"type": "rule", "color": "#1f77b4", "strokeWidth": 6.25},
          "encoding": {
            "x": {"field": "pos", "type": "quantitative", "axis": null},
            "y": {"field": "lo", "type": "quantitative", "axis": null},
            "y2": {"field": "hi"}
          }
        },
        {
          "data": {"name": "vcap"},
          "mark": {"type": "tick", "orient": "horizontal", "color": "#1f77b4", "size": 89, "thickness": 6.25, "opacity": 1},
          "encoding": {
            "x": {"field": "pos", "type": "quantitative", "axis": null},
            "y": {"field": "val", "type": "quantitative", "axis": null}
          }
        }
      ],
      "resolve": {"axis": {"x": "independent", "y": "independent"}}
    },
    {
      "title": "Predicted - Measured (Residual)",
      "width": 2415,
      "height": 987,
      "layer": [
        {
          "data": {"name": "resid"},
          "mark": {"type": "line", "strokeWidth": 6.7, "opacity": 0.6, "strokeCap": "butt", "strokeJoin": "round"},
          "encoding": {
            "x": {
              "field": "t", "type": "quantitative", "title": "Days",
              "scale": {"domain": [14.85, 18.15], "nice": false, "zero": false},
              "axis": {
                "title": "Days", "grid": true, "labelOverlap": false,
                "values": [14.875,14.9167,14.9583,15,15.0417,15.0833,15.125,15.1667,15.2083,15.25,15.2917,15.3333,15.375,15.4167,15.4583,15.5,15.5417,15.5833,15.625,15.6667,15.7083,15.75,15.7917,15.8333,15.875,15.9167,15.9583,16,16.0417,16.0833,16.125,16.1667,16.2083,16.25,16.2917,16.3333,16.375,16.4167,16.4583,16.5,16.5417,16.5833,16.625,16.6667,16.7083,16.75,16.7917,16.8333,16.875,16.9167,16.9583,17,17.0417,17.0833,17.125,17.1667,17.2083,17.25,17.2917,17.3333,17.375,17.4167,17.4583,17.5,17.5417,17.5833,17.625,17.6667,17.7083,17.75,17.7917,17.8333,17.875,17.9167,17.9583,18,18.0417,18.0833,18.125],
                "labelExpr": "abs(datum.value - round(datum.value)) < 0.001 ? format(datum.value, 'd') : ''",
                "tickSize": {"condition": {"test": "abs(datum.value - round(datum.value)) < 0.001", "value": 14.6}, "value": 8.3},
                "tickWidth": {"condition": {"test": "abs(datum.value - round(datum.value)) < 0.001", "value": 3.3}, "value": 2.5},
                "gridOpacity": {"condition": {"test": "abs(datum.value - round(datum.value)) < 0.001", "value": 1}, "value": 0}
              }
            },
            "y": {
              "field": "r", "type": "quantitative", "title": "NTU",
              "scale": {"domain": [-0.855, 0.571], "nice": false, "zero": false},
              "axis": {"title": "NTU", "orient": "left", "values": [-0.8, -0.6, -0.4, -0.2, 0, 0.2, 0.4], "format": ".1f", "grid": true, "labelOverlap": false}
            },
            "color": {
              "field": "s", "type": "nominal",
              "scale": {"domain": ["Device B8 (p_in)", "Device 94 (p_out)", "Solar Radiation"], "range": ["#2ca02c", "#d62728", "#ff7f0e"]},
              "legend": {"title": null, "orient": "bottom-left", "offset": 21, "symbolOpacity": 0.6}
            },
            "strokeDash": {
              "field": "s", "type": "nominal",
              "scale": {"domain": ["Device B8 (p_in)", "Device 94 (p_out)", "Solar Radiation"], "range": [[1, 0], [1, 0], [6.25, 10.3]]}
            }
          }
        },
        {
          "data": {"name": "solar"},
          "mark": {"type": "line", "strokeWidth": 6.25, "opacity": 0.6, "strokeCap": "butt", "strokeJoin": "round"},
          "encoding": {
            "x": {"field": "t", "type": "quantitative", "axis": null},
            "y": {
              "field": "w", "type": "quantitative", "title": "W/m²",
              "scale": {"domain": [-7.4, 155.6], "nice": false, "zero": false},
              "axis": {"title": "W/m²", "orient": "right", "values": [0, 20, 40, 60, 80, 100, 120, 140], "format": "d", "grid": false, "labelOverlap": false, "titleAngle": 270, "titleBaseline": "top"}
            },
            "color": {
              "field": "s", "type": "nominal",
              "scale": {"domain": ["Device B8 (p_in)", "Device 94 (p_out)", "Solar Radiation"], "range": ["#2ca02c", "#d62728", "#ff7f0e"]},
              "legend": {"title": null, "orient": "bottom-left", "offset": 21, "symbolOpacity": 0.6}
            },
            "strokeDash": {
              "field": "s", "type": "nominal",
              "scale": {"domain": ["Device B8 (p_in)", "Device 94 (p_out)", "Solar Radiation"], "range": [[1, 0], [1, 0], [6.25, 10.3]]}
            }
          }
        }
      ],
      "resolve": {"scale": {"y": "independent"}, "axis": {"x": "independent", "y": "independent"}}
    },
    {
      "title": "|Residual| CDF",
      "width": 588,
      "height": 987,
      "data": {"name": "cdf"},
      "mark": {"type": "line", "strokeWidth": 6.25, "strokeCap": "butt", "strokeJoin": "round"},
      "encoding": {
        "x": {
          "field": "x", "type": "quantitative", "title": "NTU",
          "scale": {"domain": [-0.03, 0.83], "nice": false, "zero": false},
          "axis": {
            "title": "NTU", "grid": true, "labelOverlap": false,
            "values": [-0.02,0,0.02,0.04,0.06,0.08,0.1,0.12,0.14,0.16,0.18,0.2,0.22,0.24,0.26,0.28,0.3,0.32,0.34,0.36,0.38,0.4,0.42,0.44,0.46,0.48,0.5,0.52,0.54,0.56,0.58,0.6,0.62,0.64,0.66,0.68,0.7,0.72,0.74,0.76,0.78,0.8,0.82],
            "labelExpr": "abs(datum.value*5 - round(datum.value*5)) < 0.01 ? format(datum.value, '.1f') : ''",
            "tickSize": {"condition": {"test": "abs(datum.value*5 - round(datum.value*5)) < 0.01", "value": 14.6}, "value": 8.3},
            "tickWidth": {"condition": {"test": "abs(datum.value*5 - round(datum.value*5)) < 0.01", "value": 3.3}, "value": 2.5},
            "gridOpacity": {"condition": {"test": "abs(datum.value*5 - round(datum.value*5)) < 0.01", "value": 1}, "value": 0}
          }
        },
        "y": {
          "field": "y", "type": "quantitative", "title": null,
          "scale": {"domain": [-0.05, 1.05], "nice": false, "zero": false},
          "axis": {"title": null, "values": [0, 0.2, 0.4, 0.6, 0.8, 1], "format": ".1f", "grid": true, "labelOverlap": false}
        },
        "color": {
          "field": "s", "type": "nominal",
          "scale": {"domain": ["Device B8 (p_in)", "Device 94 (p_out)"], "range": ["#2ca02c", "#d62728"]},
          "legend": {"title": null, "orient": "bottom-right", "offset": 21}
        }
      }
    }
  ],
  "config": {
    "font": "DejaVu Sans",
    "view": {"stroke": "#000000", "strokeWidth": 3.3},
    "axis": {
      "domain": false,
      "labelFont": "DejaVu Sans", "labelFontSize": 41.7, "labelColor": "#000000",
      "titleFont": "DejaVu Sans", "titleFontSize": 41.7, "titleFontWeight": "normal", "titleColor": "#000000",
      "tickColor": "#000000", "tickWidth": 3.3, "tickSize": 14.6,
      "labelPadding": 14.6, "titlePadding": 16.7,
      "gridColor": "#b0b0b0", "gridWidth": 3.3,
      "labelOverlap": false, "labelFlush": false, "labelBound": false
    },
    "title": {"font": "DejaVu Sans", "fontSize": 50, "fontWeight": "normal", "color": "#000000", "offset": 14, "anchor": "middle", "baseline": "alphabetic"},
    "legend": {
      "labelFont": "DejaVu Sans", "labelFontSize": 41.7, "labelColor": "#000000", "labelLimit": 0,
      "symbolType": "stroke", "symbolSize": 5800, "symbolStrokeWidth": 6.25,
      "labelOffset": 34, "padding": 17, "rowPadding": 0,
      "fillColor": "rgba(255,255,255,0.8)", "strokeColor": "#d0d0d0", "cornerRadius": 8
    }
  }
}
